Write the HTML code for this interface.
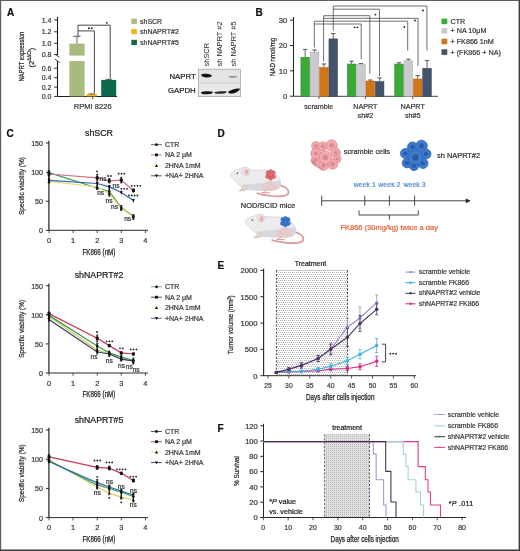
<!DOCTYPE html>
<html><head><meta charset="utf-8"><style>
html,body{margin:0;padding:0;background:#fff;}
svg{display:block;will-change:transform;}
text{font-family:"Liberation Sans", sans-serif;}
</style></head><body>
<svg width="520" height="551" viewBox="0 0 520 551">
<rect width="520" height="551" fill="#fff"/>
<line x1="0" y1="0.5" x2="520" y2="0.5" stroke="#5c5c5c" stroke-width="1.0" />
<line x1="0.6" y1="0" x2="0.6" y2="551" stroke="#606060" stroke-width="1.2" />
<line x1="519.3" y1="0" x2="519.3" y2="551" stroke="#3c3c3c" stroke-width="1.4" />
<line x1="0" y1="550.3" x2="520" y2="550.3" stroke="#3c3c3c" stroke-width="1.4" />
<text x="7.0" y="15.8" font-size="10" text-anchor="start" fill="#111" stroke="#111" stroke-width="0.22" font-weight="bold" >A</text>
<line x1="57.5" y1="17" x2="57.5" y2="55.0" stroke="#1a1a1a" stroke-width="1.1" />
<line x1="57.5" y1="61.2" x2="57.5" y2="96.4" stroke="#1a1a1a" stroke-width="1.1" />
<path d="M55.3,54.2 L59.3,57.4 M55.1,59.2 L59.5,62.6" stroke="#1a1a1a" stroke-width="0.9" fill="none" />
<line x1="54.2" y1="20" x2="57.5" y2="20" stroke="#2a2a2a" stroke-width="1.0" />
<text x="51.4" y="22.5" font-size="7" text-anchor="end" fill="#3a3a3a" stroke="#3a3a3a" stroke-width="0.22" font-weight="normal" >1.4</text>
<line x1="54.2" y1="31.8" x2="57.5" y2="31.8" stroke="#2a2a2a" stroke-width="1.0" />
<text x="51.4" y="34.3" font-size="7" text-anchor="end" fill="#3a3a3a" stroke="#3a3a3a" stroke-width="0.22" font-weight="normal" >1.2</text>
<line x1="54.2" y1="43.3" x2="57.5" y2="43.3" stroke="#2a2a2a" stroke-width="1.0" />
<text x="51.4" y="45.8" font-size="7" text-anchor="end" fill="#3a3a3a" stroke="#3a3a3a" stroke-width="0.22" font-weight="normal" >1.0</text>
<line x1="54.2" y1="54.6" x2="57.5" y2="54.6" stroke="#2a2a2a" stroke-width="1.0" />
<text x="51.4" y="57.1" font-size="7" text-anchor="end" fill="#3a3a3a" stroke="#3a3a3a" stroke-width="0.22" font-weight="normal" >0.8</text>
<line x1="54.2" y1="68.2" x2="57.5" y2="68.2" stroke="#2a2a2a" stroke-width="1.0" />
<text x="51.4" y="70.7" font-size="7" text-anchor="end" fill="#3a3a3a" stroke="#3a3a3a" stroke-width="0.22" font-weight="normal" >0.6</text>
<line x1="54.2" y1="77.7" x2="57.5" y2="77.7" stroke="#2a2a2a" stroke-width="1.0" />
<text x="51.4" y="80.2" font-size="7" text-anchor="end" fill="#3a3a3a" stroke="#3a3a3a" stroke-width="0.22" font-weight="normal" >0.4</text>
<line x1="54.2" y1="87.1" x2="57.5" y2="87.1" stroke="#2a2a2a" stroke-width="1.0" />
<text x="51.4" y="89.6" font-size="7" text-anchor="end" fill="#3a3a3a" stroke="#3a3a3a" stroke-width="0.22" font-weight="normal" >0.2</text>
<line x1="54.2" y1="96.4" x2="57.5" y2="96.4" stroke="#2a2a2a" stroke-width="1.0" />
<text x="51.4" y="98.9" font-size="7" text-anchor="end" fill="#3a3a3a" stroke="#3a3a3a" stroke-width="0.22" font-weight="normal" >0.0</text>
<line x1="57.5" y1="96.5" x2="117" y2="96.5" stroke="#1a1a1a" stroke-width="1.1" />
<line x1="92.7" y1="96.4" x2="92.7" y2="99.2" stroke="#2a2a2a" stroke-width="0.8" />
<rect x="69.4" y="43.6" width="15.2" height="12.0" fill="#a8ba7e" stroke="none" stroke-width="0" />
<rect x="69.4" y="61.1" width="15.2" height="35.3" fill="#a8ba7e" stroke="none" stroke-width="0" />
<rect x="86.2" y="94.2" width="10.8" height="2.2" fill="#f0b41e" stroke="none" stroke-width="0" />
<rect x="101.2" y="79.9" width="15.0" height="16.5" fill="#10694d" stroke="none" stroke-width="0" />
<line x1="77" y1="43.6" x2="77" y2="36.3" stroke="#555" stroke-width="0.9" />
<line x1="73.4" y1="36.3" x2="80.6" y2="36.3" stroke="#444" stroke-width="0.9" />
<line x1="108.7" y1="79.9" x2="108.7" y2="79.0" stroke="#333" stroke-width="0.8" />
<line x1="105.5" y1="79.3" x2="112" y2="79.3" stroke="#333" stroke-width="0.8" />
<line x1="91.6" y1="93.8" x2="91.6" y2="94.2" stroke="#333" stroke-width="0.8" />
<line x1="88.5" y1="93.9" x2="95" y2="93.9" stroke="#333" stroke-width="0.8" />
<path d="M78,36 V25.2 H110.2 V78.6" stroke="#333" stroke-width="0.9" fill="none" />
<path d="M78,30.9 H94.4 V93.4" stroke="#333" stroke-width="0.9" fill="none" />
<circle cx="106.80" cy="22.80" r="0.9" fill="#1a1a1a"/>
<circle cx="88.88" cy="28.20" r="0.9" fill="#1a1a1a"/>
<circle cx="91.72" cy="28.20" r="0.9" fill="#1a1a1a"/>
<text transform="translate(24.28,56.60) rotate(-90)" x="0" y="0" font-size="8" text-anchor="middle" fill="#2a2a2a" stroke="#2a2a2a" stroke-width="0.25" textLength="50" lengthAdjust="spacingAndGlyphs" >NAPRT expression</text>
<text transform="translate(33.6,57.6) rotate(-90)" font-size="7.5" text-anchor="middle" fill="#2a2a2a" stroke="#2a2a2a" stroke-width="0.2" textLength="20" lengthAdjust="spacingAndGlyphs">(2<tspan font-size="4.5" dy="-2.5">ΔΔCt</tspan><tspan dy="2.5">)</tspan></text>
<text x="92.7" y="109.1" font-size="7.6" text-anchor="middle" fill="#3a3a3a" stroke="#3a3a3a" stroke-width="0.22" font-weight="normal" >RPMI 8226</text>
<rect x="131.3" y="18.7" width="5.6" height="5.2" fill="#a8ba7e" stroke="none" stroke-width="0" />
<text x="140" y="23.799999999999997" font-size="7" text-anchor="start" fill="#3a3a3a" stroke="#3a3a3a" stroke-width="0.22" font-weight="normal" >shSCR</text>
<rect x="131.3" y="29.0" width="5.6" height="5.2" fill="#f0b41e" stroke="none" stroke-width="0" />
<text x="140" y="34.1" font-size="7" text-anchor="start" fill="#3a3a3a" stroke="#3a3a3a" stroke-width="0.22" font-weight="normal" >shNAPRT#2</text>
<rect x="131.3" y="39.8" width="5.6" height="5.2" fill="#10694d" stroke="none" stroke-width="0" />
<text x="140" y="44.9" font-size="7" text-anchor="start" fill="#3a3a3a" stroke="#3a3a3a" stroke-width="0.22" font-weight="normal" >shNAPRT#5</text>
<rect x="198.5" y="69.2" width="42" height="27.4" fill="#e4e4e4" stroke="#a8a8a8" stroke-width="0.8" />
<rect x="199.5" y="83.2" width="40" height="12.6" fill="#e9e9e9" stroke="none" stroke-width="0" />
<line x1="198.5" y1="82.9" x2="240.5" y2="82.9" stroke="#c4c4c4" stroke-width="0.8" />
<path d="M201.2,74.6 C203,73.4 208,73.6 211.8,75.2 C212.2,76.6 210,77.6 206,77.4 C203,77.2 201,76.4 201.2,74.6Z" fill="#111"/>
<ellipse cx="233" cy="76.8" rx="4.3" ry="1.1" fill="#9a9a9a"/>
<path d="M201,92.2 C204,90.8 210,91 212.8,91.8 C213,93.6 210,94.4 206,94.3 C202.5,94.2 200.8,93.6 201,92.2Z" fill="#151515"/>
<path d="M214.3,92.2 C218,91.2 223,91 226.7,91.4 C227,93 223,93.8 219.5,93.8 C216,93.8 214.2,93.4 214.3,92.2Z" fill="#2a2a2a"/>
<path d="M228.2,91.8 C231,89.8 236,88.2 239.7,88.6 C240,90.6 237,92.6 233,93.4 C230,93.8 228,93.4 228.2,91.8Z" fill="#111"/>
<text x="195.7" y="79" font-size="7.8" text-anchor="end" fill="#222" stroke="#222" stroke-width="0.22" font-weight="normal" >NAPRT</text>
<text x="195.7" y="93.2" font-size="7.8" text-anchor="end" fill="#222" stroke="#222" stroke-width="0.22" font-weight="normal" >GAPDH</text>
<text transform="translate(209.39999999999998,66.4) rotate(-90)" font-size="7.4" fill="#222">shSCR</text>
<text transform="translate(222.39999999999998,66.4) rotate(-90)" font-size="7.4" fill="#222">sh NAPRT #2</text>
<text transform="translate(235.5,66.4) rotate(-90)" font-size="7.4" fill="#222">sh NAPRT #5</text>
<text x="255.6" y="15.6" font-size="10" text-anchor="start" fill="#111" stroke="#111" stroke-width="0.22" font-weight="bold" >B</text>
<line x1="293.5" y1="17" x2="293.5" y2="96.3" stroke="#2a2a2a" stroke-width="1.1" />
<line x1="290.0" y1="96.2" x2="293.5" y2="96.2" stroke="#2a2a2a" stroke-width="1.0" />
<text x="287.4" y="98.9" font-size="7.7" text-anchor="end" fill="#3a3a3a" stroke="#3a3a3a" stroke-width="0.22" font-weight="normal" >0</text>
<line x1="290.0" y1="70.85" x2="293.5" y2="70.85" stroke="#2a2a2a" stroke-width="1.0" />
<text x="287.4" y="73.55" font-size="7.7" text-anchor="end" fill="#3a3a3a" stroke="#3a3a3a" stroke-width="0.22" font-weight="normal" >10</text>
<line x1="290.0" y1="45.5" x2="293.5" y2="45.5" stroke="#2a2a2a" stroke-width="1.0" />
<text x="287.4" y="48.2" font-size="7.7" text-anchor="end" fill="#3a3a3a" stroke="#3a3a3a" stroke-width="0.22" font-weight="normal" >20</text>
<line x1="290.0" y1="20.14999999999999" x2="293.5" y2="20.14999999999999" stroke="#2a2a2a" stroke-width="1.0" />
<text x="287.4" y="22.84999999999999" font-size="7.7" text-anchor="end" fill="#3a3a3a" stroke="#3a3a3a" stroke-width="0.22" font-weight="normal" >30</text>
<line x1="293.5" y1="96.3" x2="438" y2="96.3" stroke="#2a2a2a" stroke-width="0.9" />
<line x1="318.8" y1="96.3" x2="318.8" y2="99" stroke="#2a2a2a" stroke-width="0.8" />
<line x1="365.4" y1="96.3" x2="365.4" y2="99" stroke="#2a2a2a" stroke-width="0.8" />
<line x1="412.7" y1="96.3" x2="412.7" y2="99" stroke="#2a2a2a" stroke-width="0.8" />
<line x1="305.2" y1="57.3" x2="305.2" y2="49.4" stroke="#555" stroke-width="0.9" />
<line x1="303.0" y1="49.4" x2="307.4" y2="49.4" stroke="#444" stroke-width="0.9" />
<rect x="300.9" y="57.3" width="8.6" height="39.0" fill="#3aaa36" stroke="#2a8a2a" stroke-width="0.5" />
<line x1="314.55" y1="52.2" x2="314.55" y2="50" stroke="#555" stroke-width="0.9" />
<line x1="312.35" y1="50" x2="316.75" y2="50" stroke="#444" stroke-width="0.9" />
<rect x="310.25" y="52.2" width="8.6" height="44.099999999999994" fill="#c9c9ce" stroke="#aaaab2" stroke-width="0.5" />
<line x1="323.9" y1="67.5" x2="323.9" y2="64" stroke="#555" stroke-width="0.9" />
<line x1="321.7" y1="64" x2="326.09999999999997" y2="64" stroke="#444" stroke-width="0.9" />
<rect x="319.59999999999997" y="67.5" width="8.6" height="28.799999999999997" fill="#d07518" stroke="#b06010" stroke-width="0.5" />
<line x1="333.25" y1="38.9" x2="333.25" y2="33.6" stroke="#555" stroke-width="0.9" />
<line x1="331.05" y1="33.6" x2="335.45" y2="33.6" stroke="#444" stroke-width="0.9" />
<rect x="328.95" y="38.9" width="8.6" height="57.4" fill="#44536a" stroke="#303c50" stroke-width="0.5" />
<line x1="351.6" y1="64" x2="351.6" y2="61.2" stroke="#555" stroke-width="0.9" />
<line x1="349.40000000000003" y1="61.2" x2="353.8" y2="61.2" stroke="#444" stroke-width="0.9" />
<rect x="347.3" y="64" width="8.6" height="32.3" fill="#3aaa36" stroke="#2a8a2a" stroke-width="0.5" />
<line x1="360.95000000000005" y1="64.4" x2="360.95000000000005" y2="63.6" stroke="#555" stroke-width="0.9" />
<line x1="358.75000000000006" y1="63.6" x2="363.15000000000003" y2="63.6" stroke="#444" stroke-width="0.9" />
<rect x="356.65000000000003" y="64.4" width="8.6" height="31.89999999999999" fill="#c9c9ce" stroke="#aaaab2" stroke-width="0.5" />
<line x1="370.3" y1="81" x2="370.3" y2="80" stroke="#555" stroke-width="0.9" />
<line x1="368.1" y1="80" x2="372.5" y2="80" stroke="#444" stroke-width="0.9" />
<rect x="366.0" y="81" width="8.6" height="15.299999999999997" fill="#d07518" stroke="#b06010" stroke-width="0.5" />
<line x1="379.65000000000003" y1="81.7" x2="379.65000000000003" y2="77.9" stroke="#555" stroke-width="0.9" />
<line x1="377.45000000000005" y1="77.9" x2="381.85" y2="77.9" stroke="#444" stroke-width="0.9" />
<rect x="375.35" y="81.7" width="8.6" height="14.599999999999994" fill="#44536a" stroke="#303c50" stroke-width="0.5" />
<line x1="399.0" y1="64" x2="399.0" y2="62.7" stroke="#555" stroke-width="0.9" />
<line x1="396.8" y1="62.7" x2="401.2" y2="62.7" stroke="#444" stroke-width="0.9" />
<rect x="394.7" y="64" width="8.6" height="32.3" fill="#3aaa36" stroke="#2a8a2a" stroke-width="0.5" />
<line x1="408.35" y1="60.8" x2="408.35" y2="59.2" stroke="#555" stroke-width="0.9" />
<line x1="406.15000000000003" y1="59.2" x2="410.55" y2="59.2" stroke="#444" stroke-width="0.9" />
<rect x="404.05" y="60.8" width="8.6" height="35.5" fill="#c9c9ce" stroke="#aaaab2" stroke-width="0.5" />
<line x1="417.7" y1="79" x2="417.7" y2="75.6" stroke="#555" stroke-width="0.9" />
<line x1="415.5" y1="75.6" x2="419.9" y2="75.6" stroke="#444" stroke-width="0.9" />
<rect x="413.4" y="79" width="8.6" height="17.299999999999997" fill="#d07518" stroke="#b06010" stroke-width="0.5" />
<line x1="427.05" y1="68.3" x2="427.05" y2="60.6" stroke="#555" stroke-width="0.9" />
<line x1="424.85" y1="60.6" x2="429.25" y2="60.6" stroke="#444" stroke-width="0.9" />
<rect x="422.75" y="68.3" width="8.6" height="28.0" fill="#44536a" stroke="#303c50" stroke-width="0.5" />
<path d="M333.3,30.6 V6.0 H426.9 V50.4" stroke="#4a4a4a" stroke-width="0.8" fill="none" />
<path d="M333.3,9.2 H379.5 V76.2" stroke="#4a4a4a" stroke-width="0.8" fill="none" />
<path d="M323.6,61.5 V15.7 H369.8 V73.6" stroke="#4a4a4a" stroke-width="0.8" fill="none" />
<path d="M323.6,18.3 H418 V66" stroke="#4a4a4a" stroke-width="0.8" fill="none" />
<path d="M314.3,47.5 V21.2 H407.7 V50.6" stroke="#4a4a4a" stroke-width="0.8" fill="none" />
<path d="M314.3,24 H361.2 V59.2" stroke="#4a4a4a" stroke-width="0.8" fill="none" />
<circle cx="423.00" cy="10.50" r="0.9" fill="#1a1a1a"/>
<circle cx="375.40" cy="14.60" r="0.9" fill="#1a1a1a"/>
<circle cx="415.00" cy="20.50" r="0.9" fill="#1a1a1a"/>
<circle cx="404.30" cy="27.00" r="0.9" fill="#1a1a1a"/>
<circle cx="354.57" cy="27.30" r="0.9" fill="#1a1a1a"/>
<circle cx="357.43" cy="27.30" r="0.9" fill="#1a1a1a"/>
<rect x="441.5" y="18.6" width="5.8" height="5.6" fill="#3aaa36" stroke="none" stroke-width="0" />
<text x="450.5" y="23.900000000000002" font-size="7.2" text-anchor="start" fill="#3a3a3a" stroke="#3a3a3a" stroke-width="0.22" font-weight="normal" >CTR</text>
<rect x="441.5" y="28.1" width="5.8" height="5.6" fill="#c9c9ce" stroke="none" stroke-width="0" />
<text x="450.5" y="33.4" font-size="7.2" text-anchor="start" fill="#3a3a3a" stroke="#3a3a3a" stroke-width="0.22" font-weight="normal" >+ NA 10μM</text>
<rect x="441.5" y="38.7" width="5.8" height="5.6" fill="#d07518" stroke="none" stroke-width="0" />
<text x="450.5" y="44.0" font-size="7.2" text-anchor="start" fill="#3a3a3a" stroke="#3a3a3a" stroke-width="0.22" font-weight="normal" >+ FK866 1nM</text>
<rect x="441.5" y="49.3" width="5.8" height="5.6" fill="#44536a" stroke="none" stroke-width="0" />
<text x="450.5" y="54.599999999999994" font-size="7.2" text-anchor="start" fill="#3a3a3a" stroke="#3a3a3a" stroke-width="0.22" font-weight="normal" >+ (FK866 + NA)</text>
<text x="318.8" y="109.2" font-size="7.2" text-anchor="middle" fill="#3a3a3a" stroke="#3a3a3a" stroke-width="0.22" font-weight="normal" >scramble</text>
<text x="365.4" y="109.2" font-size="7.2" text-anchor="middle" fill="#3a3a3a" stroke="#3a3a3a" stroke-width="0.22" font-weight="normal" >NAPRT</text>
<text x="365.4" y="117.8" font-size="7.2" text-anchor="middle" fill="#3a3a3a" stroke="#3a3a3a" stroke-width="0.22" font-weight="normal" >sh#2</text>
<text x="412.7" y="109.2" font-size="7.2" text-anchor="middle" fill="#3a3a3a" stroke="#3a3a3a" stroke-width="0.22" font-weight="normal" >NAPRT</text>
<text x="412.7" y="117.8" font-size="7.2" text-anchor="middle" fill="#3a3a3a" stroke="#3a3a3a" stroke-width="0.22" font-weight="normal" >sh#5</text>
<text transform="translate(274.88,57.00) rotate(-90)" x="0" y="0" font-size="8" text-anchor="middle" fill="#2a2a2a" stroke="#2a2a2a" stroke-width="0.25" textLength="38.4" lengthAdjust="spacingAndGlyphs" >NAD nmol/mg</text>
<text x="6.6" y="137" font-size="10" text-anchor="start" fill="#111" stroke="#111" stroke-width="0.22" font-weight="bold" >C</text>
<line x1="48.9" y1="140.8" x2="48.9" y2="230.3" stroke="#2a2a2a" stroke-width="1.25" />
<line x1="45.8" y1="230.3" x2="49" y2="230.3" stroke="#2a2a2a" stroke-width="1.0" />
<text x="43.0" y="233.20000000000002" font-size="7.1" text-anchor="end" fill="#3a3a3a" stroke="#3a3a3a" stroke-width="0.22" font-weight="normal" >0</text>
<line x1="45.8" y1="201.20000000000002" x2="49" y2="201.20000000000002" stroke="#2a2a2a" stroke-width="1.0" />
<text x="43.0" y="204.10000000000002" font-size="7.1" text-anchor="end" fill="#3a3a3a" stroke="#3a3a3a" stroke-width="0.22" font-weight="normal" >50</text>
<line x1="45.8" y1="172.1" x2="49" y2="172.1" stroke="#2a2a2a" stroke-width="1.0" />
<text x="43.0" y="175.0" font-size="7.1" text-anchor="end" fill="#3a3a3a" stroke="#3a3a3a" stroke-width="0.22" font-weight="normal" >100</text>
<line x1="45.8" y1="143.0" x2="49" y2="143.0" stroke="#2a2a2a" stroke-width="1.0" />
<text x="43.0" y="145.9" font-size="7.1" text-anchor="end" fill="#3a3a3a" stroke="#3a3a3a" stroke-width="0.22" font-weight="normal" >150</text>
<line x1="49" y1="230.3" x2="148" y2="230.3" stroke="#2a2a2a" stroke-width="1.0" />
<line x1="49.0" y1="230.3" x2="49.0" y2="233.10000000000002" stroke="#2a2a2a" stroke-width="0.8" />
<text x="49.0" y="243.0" font-size="7.4" text-anchor="middle" fill="#3a3a3a" stroke="#3a3a3a" stroke-width="0.22" font-weight="normal" >0</text>
<line x1="73.1" y1="230.3" x2="73.1" y2="233.10000000000002" stroke="#2a2a2a" stroke-width="0.8" />
<text x="73.1" y="243.0" font-size="7.4" text-anchor="middle" fill="#3a3a3a" stroke="#3a3a3a" stroke-width="0.22" font-weight="normal" >1</text>
<line x1="97.2" y1="230.3" x2="97.2" y2="233.10000000000002" stroke="#2a2a2a" stroke-width="0.8" />
<text x="97.2" y="243.0" font-size="7.4" text-anchor="middle" fill="#3a3a3a" stroke="#3a3a3a" stroke-width="0.22" font-weight="normal" >2</text>
<line x1="121.30000000000001" y1="230.3" x2="121.30000000000001" y2="233.10000000000002" stroke="#2a2a2a" stroke-width="0.8" />
<text x="121.30000000000001" y="243.0" font-size="7.4" text-anchor="middle" fill="#3a3a3a" stroke="#3a3a3a" stroke-width="0.22" font-weight="normal" >3</text>
<line x1="145.4" y1="230.3" x2="145.4" y2="233.10000000000002" stroke="#2a2a2a" stroke-width="0.8" />
<text x="145.4" y="243.0" font-size="7.4" text-anchor="middle" fill="#3a3a3a" stroke="#3a3a3a" stroke-width="0.22" font-weight="normal" >4</text>
<text x="98.9" y="254.6" font-size="9" text-anchor="middle" fill="#222" stroke="#222" stroke-width="0.25" textLength="33" lengthAdjust="spacingAndGlyphs">FK866 (nM)</text>
<text x="99" y="135.6" font-size="8.8" text-anchor="middle" fill="#222" stroke="#222" stroke-width="0.22" font-weight="normal" >shSCR</text>
<text transform="translate(23.78,186.05) rotate(-90)" x="0" y="0" font-size="8" text-anchor="middle" fill="#2a2a2a" stroke="#2a2a2a" stroke-width="0.25" textLength="58" lengthAdjust="spacingAndGlyphs" >Specific viability (%)</text>
<polyline points="49,172.7 97.2,188 109.3,191.5 121.3,207.7 133.4,216.3" fill="none" stroke="#3a9a60" stroke-width="1.25"/>
<polyline points="49,181.3 97.2,187 109.3,193.8 121.3,208.3 133.4,217" fill="none" stroke="#e8dc70" stroke-width="1.25"/>
<polyline points="49,180.4 97.2,183.5 109.3,186.9 121.3,192.5 133.4,200.5" fill="none" stroke="#3a62b0" stroke-width="1.25"/>
<polyline points="49,174 97.2,177.9 109.3,180.9 121.3,180.2 133.4,190.4" fill="none" stroke="#d0708a" stroke-width="1.25"/>
<line x1="49" y1="170.5" x2="49" y2="183" stroke="#111" stroke-width="1.3" />
<line x1="47.9" y1="170.5" x2="50.1" y2="170.5" stroke="#111" stroke-width="0.7" />
<line x1="47.9" y1="183" x2="50.1" y2="183" stroke="#111" stroke-width="0.7" />
<line x1="97.2" y1="174.2" x2="97.2" y2="181" stroke="#111" stroke-width="1.3" />
<line x1="96.10000000000001" y1="174.2" x2="98.3" y2="174.2" stroke="#111" stroke-width="0.7" />
<line x1="96.10000000000001" y1="181" x2="98.3" y2="181" stroke="#111" stroke-width="0.7" />
<line x1="97.2" y1="182.3" x2="97.2" y2="189.6" stroke="#111" stroke-width="1.3" />
<line x1="96.10000000000001" y1="182.3" x2="98.3" y2="182.3" stroke="#111" stroke-width="0.7" />
<line x1="96.10000000000001" y1="189.6" x2="98.3" y2="189.6" stroke="#111" stroke-width="0.7" />
<line x1="109.3" y1="178.5" x2="109.3" y2="183" stroke="#111" stroke-width="1.3" />
<line x1="108.2" y1="178.5" x2="110.39999999999999" y2="178.5" stroke="#111" stroke-width="0.7" />
<line x1="108.2" y1="183" x2="110.39999999999999" y2="183" stroke="#111" stroke-width="0.7" />
<line x1="109.3" y1="185.5" x2="109.3" y2="196.2" stroke="#111" stroke-width="1.3" />
<line x1="108.2" y1="185.5" x2="110.39999999999999" y2="185.5" stroke="#111" stroke-width="0.7" />
<line x1="108.2" y1="196.2" x2="110.39999999999999" y2="196.2" stroke="#111" stroke-width="0.7" />
<line x1="121.3" y1="177.3" x2="121.3" y2="183" stroke="#111" stroke-width="1.3" />
<line x1="120.2" y1="177.3" x2="122.39999999999999" y2="177.3" stroke="#111" stroke-width="0.7" />
<line x1="120.2" y1="183" x2="122.39999999999999" y2="183" stroke="#111" stroke-width="0.7" />
<line x1="121.3" y1="205.5" x2="121.3" y2="210.5" stroke="#111" stroke-width="1.3" />
<line x1="120.2" y1="205.5" x2="122.39999999999999" y2="205.5" stroke="#111" stroke-width="0.7" />
<line x1="120.2" y1="210.5" x2="122.39999999999999" y2="210.5" stroke="#111" stroke-width="0.7" />
<line x1="133.4" y1="189" x2="133.4" y2="192" stroke="#111" stroke-width="1.3" />
<line x1="132.3" y1="189" x2="134.5" y2="189" stroke="#111" stroke-width="0.7" />
<line x1="132.3" y1="192" x2="134.5" y2="192" stroke="#111" stroke-width="0.7" />
<line x1="133.4" y1="214.5" x2="133.4" y2="219.5" stroke="#111" stroke-width="1.3" />
<line x1="132.3" y1="214.5" x2="134.5" y2="214.5" stroke="#111" stroke-width="0.7" />
<line x1="132.3" y1="219.5" x2="134.5" y2="219.5" stroke="#111" stroke-width="0.7" />
<line x1="49" y1="170.7" x2="49" y2="174.7" stroke="#111" stroke-width="0.7" />
<circle cx="49" cy="172.7" r="1.3" fill="#111"/>
<line x1="97.2" y1="186.0" x2="97.2" y2="190.0" stroke="#111" stroke-width="0.7" />
<circle cx="97.2" cy="188" r="1.3" fill="#111"/>
<line x1="109.3" y1="189.5" x2="109.3" y2="193.5" stroke="#111" stroke-width="0.7" />
<circle cx="109.3" cy="191.5" r="1.3" fill="#111"/>
<line x1="121.3" y1="205.7" x2="121.3" y2="209.7" stroke="#111" stroke-width="0.7" />
<circle cx="121.3" cy="207.7" r="1.3" fill="#111"/>
<line x1="133.4" y1="214.3" x2="133.4" y2="218.3" stroke="#111" stroke-width="0.7" />
<circle cx="133.4" cy="216.3" r="1.3" fill="#111"/>
<line x1="49" y1="179.3" x2="49" y2="183.3" stroke="#111" stroke-width="0.7" />
<path d="M47.5,182.5 L50.5,182.5 L49,179.8Z" fill="#111"/>
<line x1="97.2" y1="185.0" x2="97.2" y2="189.0" stroke="#111" stroke-width="0.7" />
<path d="M95.7,188.2 L98.7,188.2 L97.2,185.5Z" fill="#111"/>
<line x1="109.3" y1="191.8" x2="109.3" y2="195.8" stroke="#111" stroke-width="0.7" />
<path d="M107.8,195.0 L110.8,195.0 L109.3,192.3Z" fill="#111"/>
<line x1="121.3" y1="206.3" x2="121.3" y2="210.3" stroke="#111" stroke-width="0.7" />
<path d="M119.8,209.5 L122.8,209.5 L121.3,206.8Z" fill="#111"/>
<line x1="133.4" y1="215.0" x2="133.4" y2="219.0" stroke="#111" stroke-width="0.7" />
<path d="M131.9,218.2 L134.9,218.2 L133.4,215.5Z" fill="#111"/>
<line x1="49" y1="178.4" x2="49" y2="182.4" stroke="#111" stroke-width="0.7" />
<path d="M47.5,179.20000000000002 L50.5,179.20000000000002 L49,181.9Z" fill="#111"/>
<line x1="97.2" y1="181.5" x2="97.2" y2="185.5" stroke="#111" stroke-width="0.7" />
<path d="M95.7,182.3 L98.7,182.3 L97.2,185.0Z" fill="#111"/>
<line x1="109.3" y1="184.9" x2="109.3" y2="188.9" stroke="#111" stroke-width="0.7" />
<path d="M107.8,185.70000000000002 L110.8,185.70000000000002 L109.3,188.4Z" fill="#111"/>
<line x1="121.3" y1="190.5" x2="121.3" y2="194.5" stroke="#111" stroke-width="0.7" />
<path d="M119.8,191.3 L122.8,191.3 L121.3,194.0Z" fill="#111"/>
<line x1="133.4" y1="198.5" x2="133.4" y2="202.5" stroke="#111" stroke-width="0.7" />
<path d="M131.9,199.3 L134.9,199.3 L133.4,202.0Z" fill="#111"/>
<line x1="49" y1="172.0" x2="49" y2="176.0" stroke="#111" stroke-width="0.7" />
<rect x="47.5" y="172.5" width="3.0" height="3.0" fill="#111" stroke="none" stroke-width="0" />
<line x1="97.2" y1="175.9" x2="97.2" y2="179.9" stroke="#111" stroke-width="0.7" />
<rect x="95.7" y="176.4" width="3.0" height="3.0" fill="#111" stroke="none" stroke-width="0" />
<line x1="109.3" y1="178.9" x2="109.3" y2="182.9" stroke="#111" stroke-width="0.7" />
<rect x="107.8" y="179.4" width="3.0" height="3.0" fill="#111" stroke="none" stroke-width="0" />
<line x1="121.3" y1="178.2" x2="121.3" y2="182.2" stroke="#111" stroke-width="0.7" />
<rect x="119.8" y="178.7" width="3.0" height="3.0" fill="#111" stroke="none" stroke-width="0" />
<line x1="133.4" y1="188.4" x2="133.4" y2="192.4" stroke="#111" stroke-width="0.7" />
<rect x="131.9" y="188.9" width="3.0" height="3.0" fill="#111" stroke="none" stroke-width="0" />
<circle cx="97.00" cy="171.40" r="0.9" fill="#1a1a1a"/>
<text x="103" y="180.8" font-size="6.6" text-anchor="middle" fill="#333" stroke="#333" stroke-width="0.22" font-weight="normal" >ns</text>
<text x="100.7" y="195.0" font-size="6.6" text-anchor="middle" fill="#333" stroke="#333" stroke-width="0.22" font-weight="normal" >ns</text>
<circle cx="108.08" cy="176.00" r="0.9" fill="#1a1a1a"/>
<circle cx="110.92" cy="176.00" r="0.9" fill="#1a1a1a"/>
<text x="116" y="188.2" font-size="6.6" text-anchor="middle" fill="#333" stroke="#333" stroke-width="0.22" font-weight="normal" >ns</text>
<text x="109" y="202.9" font-size="6.6" text-anchor="middle" fill="#333" stroke="#333" stroke-width="0.22" font-weight="normal" >ns</text>
<circle cx="118.65" cy="173.70" r="0.9" fill="#1a1a1a"/>
<circle cx="121.50" cy="173.70" r="0.9" fill="#1a1a1a"/>
<circle cx="124.35" cy="173.70" r="0.9" fill="#1a1a1a"/>
<circle cx="121.35" cy="188.80" r="0.9" fill="#1a1a1a"/>
<circle cx="124.20" cy="188.80" r="0.9" fill="#1a1a1a"/>
<circle cx="127.05" cy="188.80" r="0.9" fill="#1a1a1a"/>
<text x="114.6" y="208.6" font-size="6.6" text-anchor="middle" fill="#333" stroke="#333" stroke-width="0.22" font-weight="normal" >ns</text>
<circle cx="131.72" cy="185.80" r="0.9" fill="#1a1a1a"/>
<circle cx="134.57" cy="185.80" r="0.9" fill="#1a1a1a"/>
<circle cx="137.42" cy="185.80" r="0.9" fill="#1a1a1a"/>
<circle cx="140.28" cy="185.80" r="0.9" fill="#1a1a1a"/>
<circle cx="128.92" cy="195.50" r="0.9" fill="#1a1a1a"/>
<circle cx="131.77" cy="195.50" r="0.9" fill="#1a1a1a"/>
<circle cx="134.62" cy="195.50" r="0.9" fill="#1a1a1a"/>
<circle cx="137.47" cy="195.50" r="0.9" fill="#1a1a1a"/>
<text x="127.7" y="220.7" font-size="6.6" text-anchor="middle" fill="#333" stroke="#333" stroke-width="0.22" font-weight="normal" >ns</text>
<line x1="151.0" y1="144.7" x2="161.8" y2="144.7" stroke="#4a5e50" stroke-width="0.9" />
<circle cx="156.5" cy="144.7" r="1.4" fill="#111"/>
<text x="164.9" y="147.2" font-size="7" text-anchor="start" fill="#3a3a3a" stroke="#3a3a3a" stroke-width="0.22" font-weight="normal" >CTR</text>
<line x1="151.0" y1="154.9" x2="161.8" y2="154.9" stroke="#b0687a" stroke-width="0.9" />
<rect x="155.1" y="153.5" width="2.8" height="2.8" fill="#111" stroke="none" stroke-width="0" />
<text x="164.9" y="157.4" font-size="7" text-anchor="start" fill="#3a3a3a" stroke="#3a3a3a" stroke-width="0.22" font-weight="normal" >NA 2 μM</text>
<line x1="151.0" y1="165.7" x2="161.8" y2="165.7" stroke="#ece6a8" stroke-width="0.9" />
<path d="M155.0,166.89999999999998 L158.0,166.89999999999998 L156.5,164.1Z" fill="#111"/>
<text x="164.9" y="168.2" font-size="7" text-anchor="start" fill="#3a3a3a" stroke="#3a3a3a" stroke-width="0.22" font-weight="normal" >2HNA 1mM</text>
<line x1="151.0" y1="175.8" x2="161.8" y2="175.8" stroke="#2a3e5e" stroke-width="0.9" />
<path d="M155.0,174.60000000000002 L158.0,174.60000000000002 L156.5,177.4Z" fill="#111"/>
<text x="164.9" y="178.3" font-size="7" text-anchor="start" fill="#3a3a3a" stroke="#3a3a3a" stroke-width="0.22" font-weight="normal" >+NA+ 2HNA</text>
<line x1="48.9" y1="283.5" x2="48.9" y2="373" stroke="#2a2a2a" stroke-width="1.25" />
<line x1="45.8" y1="373.0" x2="49" y2="373.0" stroke="#2a2a2a" stroke-width="1.0" />
<text x="43.0" y="375.9" font-size="7.1" text-anchor="end" fill="#3a3a3a" stroke="#3a3a3a" stroke-width="0.22" font-weight="normal" >0</text>
<line x1="45.8" y1="343.9" x2="49" y2="343.9" stroke="#2a2a2a" stroke-width="1.0" />
<text x="43.0" y="346.79999999999995" font-size="7.1" text-anchor="end" fill="#3a3a3a" stroke="#3a3a3a" stroke-width="0.22" font-weight="normal" >50</text>
<line x1="45.8" y1="314.8" x2="49" y2="314.8" stroke="#2a2a2a" stroke-width="1.0" />
<text x="43.0" y="317.7" font-size="7.1" text-anchor="end" fill="#3a3a3a" stroke="#3a3a3a" stroke-width="0.22" font-weight="normal" >100</text>
<line x1="45.8" y1="285.7" x2="49" y2="285.7" stroke="#2a2a2a" stroke-width="1.0" />
<text x="43.0" y="288.59999999999997" font-size="7.1" text-anchor="end" fill="#3a3a3a" stroke="#3a3a3a" stroke-width="0.22" font-weight="normal" >150</text>
<line x1="49" y1="373" x2="148" y2="373" stroke="#2a2a2a" stroke-width="1.0" />
<line x1="49.0" y1="373" x2="49.0" y2="375.8" stroke="#2a2a2a" stroke-width="0.8" />
<text x="49.0" y="385.7" font-size="7.4" text-anchor="middle" fill="#3a3a3a" stroke="#3a3a3a" stroke-width="0.22" font-weight="normal" >0</text>
<line x1="73.1" y1="373" x2="73.1" y2="375.8" stroke="#2a2a2a" stroke-width="0.8" />
<text x="73.1" y="385.7" font-size="7.4" text-anchor="middle" fill="#3a3a3a" stroke="#3a3a3a" stroke-width="0.22" font-weight="normal" >1</text>
<line x1="97.2" y1="373" x2="97.2" y2="375.8" stroke="#2a2a2a" stroke-width="0.8" />
<text x="97.2" y="385.7" font-size="7.4" text-anchor="middle" fill="#3a3a3a" stroke="#3a3a3a" stroke-width="0.22" font-weight="normal" >2</text>
<line x1="121.30000000000001" y1="373" x2="121.30000000000001" y2="375.8" stroke="#2a2a2a" stroke-width="0.8" />
<text x="121.30000000000001" y="385.7" font-size="7.4" text-anchor="middle" fill="#3a3a3a" stroke="#3a3a3a" stroke-width="0.22" font-weight="normal" >3</text>
<line x1="145.4" y1="373" x2="145.4" y2="375.8" stroke="#2a2a2a" stroke-width="0.8" />
<text x="145.4" y="385.7" font-size="7.4" text-anchor="middle" fill="#3a3a3a" stroke="#3a3a3a" stroke-width="0.22" font-weight="normal" >4</text>
<text x="98.9" y="397.3" font-size="9" text-anchor="middle" fill="#222" stroke="#222" stroke-width="0.25" textLength="33" lengthAdjust="spacingAndGlyphs">FK866 (nM)</text>
<text x="99" y="278.3" font-size="8.8" text-anchor="middle" fill="#222" stroke="#222" stroke-width="0.22" font-weight="normal" >shNAPRT#2</text>
<text transform="translate(23.78,328.75) rotate(-90)" x="0" y="0" font-size="8" text-anchor="middle" fill="#2a2a2a" stroke="#2a2a2a" stroke-width="0.25" textLength="58" lengthAdjust="spacingAndGlyphs" >Specific viability (%)</text>
<polyline points="49,316.5 97.2,350 109.3,354 121.3,359.2 133.4,361.5" fill="none" stroke="#d8c850" stroke-width="1.25"/>
<polyline points="49,315.4 97.2,346 109.3,352.9 121.3,357.1 133.4,360.4" fill="none" stroke="#3a9a55" stroke-width="1.25"/>
<polyline points="49,319.4 97.2,352 109.3,354 121.3,359.2 133.4,361" fill="none" stroke="#2e3e6a" stroke-width="1.25"/>
<polyline points="49,313.6 97.2,338.3 109.3,345.6 121.3,352.9 133.4,354" fill="none" stroke="#c8385a" stroke-width="1.25"/>
<line x1="49" y1="312" x2="49" y2="321" stroke="#111" stroke-width="1.3" />
<line x1="47.9" y1="312" x2="50.1" y2="312" stroke="#111" stroke-width="0.7" />
<line x1="47.9" y1="321" x2="50.1" y2="321" stroke="#111" stroke-width="0.7" />
<line x1="97.2" y1="335" x2="97.2" y2="342" stroke="#111" stroke-width="1.3" />
<line x1="96.10000000000001" y1="335" x2="98.3" y2="335" stroke="#111" stroke-width="0.7" />
<line x1="96.10000000000001" y1="342" x2="98.3" y2="342" stroke="#111" stroke-width="0.7" />
<line x1="97.2" y1="343.5" x2="97.2" y2="354" stroke="#111" stroke-width="1.3" />
<line x1="96.10000000000001" y1="343.5" x2="98.3" y2="343.5" stroke="#111" stroke-width="0.7" />
<line x1="96.10000000000001" y1="354" x2="98.3" y2="354" stroke="#111" stroke-width="0.7" />
<line x1="109.3" y1="351" x2="109.3" y2="356.5" stroke="#111" stroke-width="1.3" />
<line x1="108.2" y1="351" x2="110.39999999999999" y2="351" stroke="#111" stroke-width="0.7" />
<line x1="108.2" y1="356.5" x2="110.39999999999999" y2="356.5" stroke="#111" stroke-width="0.7" />
<line x1="121.3" y1="355" x2="121.3" y2="361" stroke="#111" stroke-width="1.3" />
<line x1="120.2" y1="355" x2="122.39999999999999" y2="355" stroke="#111" stroke-width="0.7" />
<line x1="120.2" y1="361" x2="122.39999999999999" y2="361" stroke="#111" stroke-width="0.7" />
<line x1="133.4" y1="358" x2="133.4" y2="364" stroke="#111" stroke-width="1.3" />
<line x1="132.3" y1="358" x2="134.5" y2="358" stroke="#111" stroke-width="0.7" />
<line x1="132.3" y1="364" x2="134.5" y2="364" stroke="#111" stroke-width="0.7" />
<line x1="49" y1="314.5" x2="49" y2="318.5" stroke="#111" stroke-width="0.7" />
<path d="M47.5,317.7 L50.5,317.7 L49,315.0Z" fill="#111"/>
<line x1="97.2" y1="348.0" x2="97.2" y2="352.0" stroke="#111" stroke-width="0.7" />
<path d="M95.7,351.2 L98.7,351.2 L97.2,348.5Z" fill="#111"/>
<line x1="109.3" y1="352.0" x2="109.3" y2="356.0" stroke="#111" stroke-width="0.7" />
<path d="M107.8,355.2 L110.8,355.2 L109.3,352.5Z" fill="#111"/>
<line x1="121.3" y1="357.2" x2="121.3" y2="361.2" stroke="#111" stroke-width="0.7" />
<path d="M119.8,360.4 L122.8,360.4 L121.3,357.7Z" fill="#111"/>
<line x1="133.4" y1="359.5" x2="133.4" y2="363.5" stroke="#111" stroke-width="0.7" />
<path d="M131.9,362.7 L134.9,362.7 L133.4,360.0Z" fill="#111"/>
<line x1="49" y1="313.4" x2="49" y2="317.4" stroke="#111" stroke-width="0.7" />
<circle cx="49" cy="315.4" r="1.3" fill="#111"/>
<line x1="97.2" y1="344.0" x2="97.2" y2="348.0" stroke="#111" stroke-width="0.7" />
<circle cx="97.2" cy="346" r="1.3" fill="#111"/>
<line x1="109.3" y1="350.9" x2="109.3" y2="354.9" stroke="#111" stroke-width="0.7" />
<circle cx="109.3" cy="352.9" r="1.3" fill="#111"/>
<line x1="121.3" y1="355.1" x2="121.3" y2="359.1" stroke="#111" stroke-width="0.7" />
<circle cx="121.3" cy="357.1" r="1.3" fill="#111"/>
<line x1="133.4" y1="358.4" x2="133.4" y2="362.4" stroke="#111" stroke-width="0.7" />
<circle cx="133.4" cy="360.4" r="1.3" fill="#111"/>
<line x1="49" y1="317.4" x2="49" y2="321.4" stroke="#111" stroke-width="0.7" />
<path d="M47.5,318.2 L50.5,318.2 L49,320.9Z" fill="#111"/>
<line x1="97.2" y1="350.0" x2="97.2" y2="354.0" stroke="#111" stroke-width="0.7" />
<path d="M95.7,350.8 L98.7,350.8 L97.2,353.5Z" fill="#111"/>
<line x1="109.3" y1="352.0" x2="109.3" y2="356.0" stroke="#111" stroke-width="0.7" />
<path d="M107.8,352.8 L110.8,352.8 L109.3,355.5Z" fill="#111"/>
<line x1="121.3" y1="357.2" x2="121.3" y2="361.2" stroke="#111" stroke-width="0.7" />
<path d="M119.8,358.0 L122.8,358.0 L121.3,360.7Z" fill="#111"/>
<line x1="133.4" y1="359.0" x2="133.4" y2="363.0" stroke="#111" stroke-width="0.7" />
<path d="M131.9,359.8 L134.9,359.8 L133.4,362.5Z" fill="#111"/>
<line x1="49" y1="311.6" x2="49" y2="315.6" stroke="#111" stroke-width="0.7" />
<rect x="47.5" y="312.1" width="3.0" height="3.0" fill="#111" stroke="none" stroke-width="0" />
<line x1="97.2" y1="336.3" x2="97.2" y2="340.3" stroke="#111" stroke-width="0.7" />
<rect x="95.7" y="336.8" width="3.0" height="3.0" fill="#111" stroke="none" stroke-width="0" />
<line x1="109.3" y1="343.6" x2="109.3" y2="347.6" stroke="#111" stroke-width="0.7" />
<rect x="107.8" y="344.1" width="3.0" height="3.0" fill="#111" stroke="none" stroke-width="0" />
<line x1="121.3" y1="350.9" x2="121.3" y2="354.9" stroke="#111" stroke-width="0.7" />
<rect x="119.8" y="351.4" width="3.0" height="3.0" fill="#111" stroke="none" stroke-width="0" />
<line x1="133.4" y1="352.0" x2="133.4" y2="356.0" stroke="#111" stroke-width="0.7" />
<rect x="131.9" y="352.5" width="3.0" height="3.0" fill="#111" stroke="none" stroke-width="0" />
<circle cx="97.00" cy="332.00" r="0.9" fill="#1a1a1a"/>
<circle cx="106.55" cy="341.30" r="0.9" fill="#1a1a1a"/>
<circle cx="109.40" cy="341.30" r="0.9" fill="#1a1a1a"/>
<circle cx="112.25" cy="341.30" r="0.9" fill="#1a1a1a"/>
<circle cx="119.98" cy="348.30" r="0.9" fill="#1a1a1a"/>
<circle cx="122.83" cy="348.30" r="0.9" fill="#1a1a1a"/>
<circle cx="130.75" cy="349.40" r="0.9" fill="#1a1a1a"/>
<circle cx="133.60" cy="349.40" r="0.9" fill="#1a1a1a"/>
<circle cx="136.45" cy="349.40" r="0.9" fill="#1a1a1a"/>
<text x="94" y="359.0" font-size="6.6" text-anchor="middle" fill="#333" stroke="#333" stroke-width="0.22" font-weight="normal" >ns</text>
<text x="109.3" y="363.0" font-size="6.6" text-anchor="middle" fill="#333" stroke="#333" stroke-width="0.22" font-weight="normal" >ns</text>
<text x="121.5" y="367.6" font-size="6.6" text-anchor="middle" fill="#333" stroke="#333" stroke-width="0.22" font-weight="normal" >ns</text>
<text x="129.3" y="368.7" font-size="6.6" text-anchor="middle" fill="#333" stroke="#333" stroke-width="0.22" font-weight="normal" >ns</text>
<text x="136.2" y="372.2" font-size="6.6" text-anchor="middle" fill="#333" stroke="#333" stroke-width="0.22" font-weight="normal" >ns</text>
<line x1="151.0" y1="286.8" x2="161.8" y2="286.8" stroke="#6aa070" stroke-width="0.9" />
<circle cx="156.5" cy="286.8" r="1.4" fill="#111"/>
<text x="164.9" y="289.3" font-size="7" text-anchor="start" fill="#3a3a3a" stroke="#3a3a3a" stroke-width="0.22" font-weight="normal" >CTR</text>
<line x1="151.0" y1="297.2" x2="161.8" y2="297.2" stroke="#402a38" stroke-width="0.9" />
<rect x="155.1" y="295.8" width="2.8" height="2.8" fill="#111" stroke="none" stroke-width="0" />
<text x="164.9" y="299.7" font-size="7" text-anchor="start" fill="#3a3a3a" stroke="#3a3a3a" stroke-width="0.22" font-weight="normal" >NA 2 μM</text>
<line x1="151.0" y1="307.7" x2="161.8" y2="307.7" stroke="#eee8b0" stroke-width="0.9" />
<path d="M155.0,308.9 L158.0,308.9 L156.5,306.09999999999997Z" fill="#111"/>
<text x="164.9" y="310.2" font-size="7" text-anchor="start" fill="#3a3a3a" stroke="#3a3a3a" stroke-width="0.22" font-weight="normal" >2HNA 1mM</text>
<line x1="151.0" y1="318.3" x2="161.8" y2="318.3" stroke="#4a5a92" stroke-width="0.9" />
<path d="M155.0,317.1 L158.0,317.1 L156.5,319.90000000000003Z" fill="#111"/>
<text x="164.9" y="320.8" font-size="7" text-anchor="start" fill="#3a3a3a" stroke="#3a3a3a" stroke-width="0.22" font-weight="normal" >+NA+ 2HNA</text>
<line x1="48.9" y1="427.8" x2="48.9" y2="517.6" stroke="#2a2a2a" stroke-width="1.25" />
<line x1="45.8" y1="517.6" x2="49" y2="517.6" stroke="#2a2a2a" stroke-width="1.0" />
<text x="43.0" y="520.5" font-size="7.1" text-anchor="end" fill="#3a3a3a" stroke="#3a3a3a" stroke-width="0.22" font-weight="normal" >0</text>
<line x1="45.8" y1="488.40000000000003" x2="49" y2="488.40000000000003" stroke="#2a2a2a" stroke-width="1.0" />
<text x="43.0" y="491.3" font-size="7.1" text-anchor="end" fill="#3a3a3a" stroke="#3a3a3a" stroke-width="0.22" font-weight="normal" >50</text>
<line x1="45.8" y1="459.2" x2="49" y2="459.2" stroke="#2a2a2a" stroke-width="1.0" />
<text x="43.0" y="462.09999999999997" font-size="7.1" text-anchor="end" fill="#3a3a3a" stroke="#3a3a3a" stroke-width="0.22" font-weight="normal" >100</text>
<line x1="45.8" y1="430.0" x2="49" y2="430.0" stroke="#2a2a2a" stroke-width="1.0" />
<text x="43.0" y="432.9" font-size="7.1" text-anchor="end" fill="#3a3a3a" stroke="#3a3a3a" stroke-width="0.22" font-weight="normal" >150</text>
<line x1="49" y1="517.6" x2="148" y2="517.6" stroke="#2a2a2a" stroke-width="1.0" />
<line x1="49.0" y1="517.6" x2="49.0" y2="520.4" stroke="#2a2a2a" stroke-width="0.8" />
<text x="49.0" y="530.3000000000001" font-size="7.4" text-anchor="middle" fill="#3a3a3a" stroke="#3a3a3a" stroke-width="0.22" font-weight="normal" >0</text>
<line x1="73.1" y1="517.6" x2="73.1" y2="520.4" stroke="#2a2a2a" stroke-width="0.8" />
<text x="73.1" y="530.3000000000001" font-size="7.4" text-anchor="middle" fill="#3a3a3a" stroke="#3a3a3a" stroke-width="0.22" font-weight="normal" >1</text>
<line x1="97.2" y1="517.6" x2="97.2" y2="520.4" stroke="#2a2a2a" stroke-width="0.8" />
<text x="97.2" y="530.3000000000001" font-size="7.4" text-anchor="middle" fill="#3a3a3a" stroke="#3a3a3a" stroke-width="0.22" font-weight="normal" >2</text>
<line x1="121.30000000000001" y1="517.6" x2="121.30000000000001" y2="520.4" stroke="#2a2a2a" stroke-width="0.8" />
<text x="121.30000000000001" y="530.3000000000001" font-size="7.4" text-anchor="middle" fill="#3a3a3a" stroke="#3a3a3a" stroke-width="0.22" font-weight="normal" >3</text>
<line x1="145.4" y1="517.6" x2="145.4" y2="520.4" stroke="#2a2a2a" stroke-width="0.8" />
<text x="145.4" y="530.3000000000001" font-size="7.4" text-anchor="middle" fill="#3a3a3a" stroke="#3a3a3a" stroke-width="0.22" font-weight="normal" >4</text>
<text x="98.9" y="541.9" font-size="9" text-anchor="middle" fill="#222" stroke="#222" stroke-width="0.25" textLength="33" lengthAdjust="spacingAndGlyphs">FK866 (nM)</text>
<text x="99" y="422.6" font-size="8.8" text-anchor="middle" fill="#222" stroke="#222" stroke-width="0.22" font-weight="normal" >shNAPRT#5</text>
<text transform="translate(23.78,473.20) rotate(-90)" x="0" y="0" font-size="8" text-anchor="middle" fill="#2a2a2a" stroke="#2a2a2a" stroke-width="0.25" textLength="58" lengthAdjust="spacingAndGlyphs" >Specific viability (%)</text>
<polyline points="49,459.8 97.2,487 109.3,493.3 121.3,497.2 133.4,500" fill="none" stroke="#e0d060" stroke-width="1.25"/>
<polyline points="49,461 97.2,484.9 109.3,488.5 121.3,492.2 133.4,496.5" fill="none" stroke="#3a9a60" stroke-width="1.25"/>
<polyline points="49,461.5 97.2,482.7 109.3,487 121.3,491 133.4,495" fill="none" stroke="#2a6aa8" stroke-width="1.25"/>
<polyline points="49,456.9 97.2,467.4 109.3,468.2 121.3,473.3 133.4,480.5" fill="none" stroke="#c43a58" stroke-width="1.25"/>
<line x1="49" y1="454.6" x2="49" y2="462.5" stroke="#111" stroke-width="1.3" />
<line x1="47.9" y1="454.6" x2="50.1" y2="454.6" stroke="#111" stroke-width="0.7" />
<line x1="47.9" y1="462.5" x2="50.1" y2="462.5" stroke="#111" stroke-width="0.7" />
<line x1="97.2" y1="465.5" x2="97.2" y2="469.5" stroke="#111" stroke-width="1.3" />
<line x1="96.10000000000001" y1="465.5" x2="98.3" y2="465.5" stroke="#111" stroke-width="0.7" />
<line x1="96.10000000000001" y1="469.5" x2="98.3" y2="469.5" stroke="#111" stroke-width="0.7" />
<line x1="97.2" y1="479.5" x2="97.2" y2="489" stroke="#111" stroke-width="1.3" />
<line x1="96.10000000000001" y1="479.5" x2="98.3" y2="479.5" stroke="#111" stroke-width="0.7" />
<line x1="96.10000000000001" y1="489" x2="98.3" y2="489" stroke="#111" stroke-width="0.7" />
<line x1="109.3" y1="466" x2="109.3" y2="470" stroke="#111" stroke-width="1.3" />
<line x1="108.2" y1="466" x2="110.39999999999999" y2="466" stroke="#111" stroke-width="0.7" />
<line x1="108.2" y1="470" x2="110.39999999999999" y2="470" stroke="#111" stroke-width="0.7" />
<line x1="109.3" y1="485" x2="109.3" y2="491" stroke="#111" stroke-width="1.3" />
<line x1="108.2" y1="485" x2="110.39999999999999" y2="485" stroke="#111" stroke-width="0.7" />
<line x1="108.2" y1="491" x2="110.39999999999999" y2="491" stroke="#111" stroke-width="0.7" />
<line x1="121.3" y1="489" x2="121.3" y2="499" stroke="#111" stroke-width="1.3" />
<line x1="120.2" y1="489" x2="122.39999999999999" y2="489" stroke="#111" stroke-width="0.7" />
<line x1="120.2" y1="499" x2="122.39999999999999" y2="499" stroke="#111" stroke-width="0.7" />
<line x1="133.4" y1="479" x2="133.4" y2="482" stroke="#111" stroke-width="1.3" />
<line x1="132.3" y1="479" x2="134.5" y2="479" stroke="#111" stroke-width="0.7" />
<line x1="132.3" y1="482" x2="134.5" y2="482" stroke="#111" stroke-width="0.7" />
<line x1="133.4" y1="493" x2="133.4" y2="502" stroke="#111" stroke-width="1.3" />
<line x1="132.3" y1="493" x2="134.5" y2="493" stroke="#111" stroke-width="0.7" />
<line x1="132.3" y1="502" x2="134.5" y2="502" stroke="#111" stroke-width="0.7" />
<line x1="49" y1="457.8" x2="49" y2="461.8" stroke="#111" stroke-width="0.7" />
<path d="M47.5,461.0 L50.5,461.0 L49,458.3Z" fill="#111"/>
<line x1="97.2" y1="485.0" x2="97.2" y2="489.0" stroke="#111" stroke-width="0.7" />
<path d="M95.7,488.2 L98.7,488.2 L97.2,485.5Z" fill="#111"/>
<line x1="109.3" y1="491.3" x2="109.3" y2="495.3" stroke="#111" stroke-width="0.7" />
<path d="M107.8,494.5 L110.8,494.5 L109.3,491.8Z" fill="#111"/>
<line x1="121.3" y1="495.2" x2="121.3" y2="499.2" stroke="#111" stroke-width="0.7" />
<path d="M119.8,498.4 L122.8,498.4 L121.3,495.7Z" fill="#111"/>
<line x1="133.4" y1="498.0" x2="133.4" y2="502.0" stroke="#111" stroke-width="0.7" />
<path d="M131.9,501.2 L134.9,501.2 L133.4,498.5Z" fill="#111"/>
<line x1="49" y1="459.0" x2="49" y2="463.0" stroke="#111" stroke-width="0.7" />
<circle cx="49" cy="461" r="1.3" fill="#111"/>
<line x1="97.2" y1="482.9" x2="97.2" y2="486.9" stroke="#111" stroke-width="0.7" />
<circle cx="97.2" cy="484.9" r="1.3" fill="#111"/>
<line x1="109.3" y1="486.5" x2="109.3" y2="490.5" stroke="#111" stroke-width="0.7" />
<circle cx="109.3" cy="488.5" r="1.3" fill="#111"/>
<line x1="121.3" y1="490.2" x2="121.3" y2="494.2" stroke="#111" stroke-width="0.7" />
<circle cx="121.3" cy="492.2" r="1.3" fill="#111"/>
<line x1="133.4" y1="494.5" x2="133.4" y2="498.5" stroke="#111" stroke-width="0.7" />
<circle cx="133.4" cy="496.5" r="1.3" fill="#111"/>
<line x1="49" y1="459.5" x2="49" y2="463.5" stroke="#111" stroke-width="0.7" />
<path d="M47.5,460.3 L50.5,460.3 L49,463.0Z" fill="#111"/>
<line x1="97.2" y1="480.7" x2="97.2" y2="484.7" stroke="#111" stroke-width="0.7" />
<path d="M95.7,481.5 L98.7,481.5 L97.2,484.2Z" fill="#111"/>
<line x1="109.3" y1="485.0" x2="109.3" y2="489.0" stroke="#111" stroke-width="0.7" />
<path d="M107.8,485.8 L110.8,485.8 L109.3,488.5Z" fill="#111"/>
<line x1="121.3" y1="489.0" x2="121.3" y2="493.0" stroke="#111" stroke-width="0.7" />
<path d="M119.8,489.8 L122.8,489.8 L121.3,492.5Z" fill="#111"/>
<line x1="133.4" y1="493.0" x2="133.4" y2="497.0" stroke="#111" stroke-width="0.7" />
<path d="M131.9,493.8 L134.9,493.8 L133.4,496.5Z" fill="#111"/>
<line x1="49" y1="454.9" x2="49" y2="458.9" stroke="#111" stroke-width="0.7" />
<rect x="47.5" y="455.4" width="3.0" height="3.0" fill="#111" stroke="none" stroke-width="0" />
<line x1="97.2" y1="465.4" x2="97.2" y2="469.4" stroke="#111" stroke-width="0.7" />
<rect x="95.7" y="465.9" width="3.0" height="3.0" fill="#111" stroke="none" stroke-width="0" />
<line x1="109.3" y1="466.2" x2="109.3" y2="470.2" stroke="#111" stroke-width="0.7" />
<rect x="107.8" y="466.7" width="3.0" height="3.0" fill="#111" stroke="none" stroke-width="0" />
<line x1="121.3" y1="471.3" x2="121.3" y2="475.3" stroke="#111" stroke-width="0.7" />
<rect x="119.8" y="471.8" width="3.0" height="3.0" fill="#111" stroke="none" stroke-width="0" />
<line x1="133.4" y1="478.5" x2="133.4" y2="482.5" stroke="#111" stroke-width="0.7" />
<rect x="131.9" y="479.0" width="3.0" height="3.0" fill="#111" stroke="none" stroke-width="0" />
<circle cx="94.45" cy="460.50" r="0.9" fill="#1a1a1a"/>
<circle cx="97.30" cy="460.50" r="0.9" fill="#1a1a1a"/>
<circle cx="100.15" cy="460.50" r="0.9" fill="#1a1a1a"/>
<circle cx="106.45" cy="462.40" r="0.9" fill="#1a1a1a"/>
<circle cx="109.30" cy="462.40" r="0.9" fill="#1a1a1a"/>
<circle cx="112.15" cy="462.40" r="0.9" fill="#1a1a1a"/>
<circle cx="116.92" cy="469.30" r="0.9" fill="#1a1a1a"/>
<circle cx="119.77" cy="469.30" r="0.9" fill="#1a1a1a"/>
<circle cx="122.62" cy="469.30" r="0.9" fill="#1a1a1a"/>
<circle cx="125.47" cy="469.30" r="0.9" fill="#1a1a1a"/>
<circle cx="130.45" cy="476.60" r="0.9" fill="#1a1a1a"/>
<circle cx="133.30" cy="476.60" r="0.9" fill="#1a1a1a"/>
<circle cx="136.15" cy="476.60" r="0.9" fill="#1a1a1a"/>
<circle cx="97.30" cy="476.90" r="0.9" fill="#1a1a1a"/>
<text x="109.5" y="483.7" font-size="6.6" text-anchor="middle" fill="#333" stroke="#333" stroke-width="0.22" font-weight="normal" >ns</text>
<text x="121.3" y="489.0" font-size="6.6" text-anchor="middle" fill="#333" stroke="#333" stroke-width="0.22" font-weight="normal" >ns</text>
<text x="133.6" y="492.7" font-size="6.6" text-anchor="middle" fill="#333" stroke="#333" stroke-width="0.22" font-weight="normal" >ns</text>
<text x="97.3" y="495.3" font-size="6.6" text-anchor="middle" fill="#333" stroke="#333" stroke-width="0.22" font-weight="normal" >ns</text>
<circle cx="109.30" cy="498.00" r="0.9" fill="#1a1a1a"/>
<circle cx="121.20" cy="502.30" r="0.9" fill="#1a1a1a"/>
<text x="133.3" y="507.2" font-size="6.6" text-anchor="middle" fill="#333" stroke="#333" stroke-width="0.22" font-weight="normal" >ns</text>
<line x1="151.0" y1="431.5" x2="161.8" y2="431.5" stroke="#2e4e3e" stroke-width="0.9" />
<circle cx="156.5" cy="431.5" r="1.4" fill="#111"/>
<text x="164.9" y="434.0" font-size="7" text-anchor="start" fill="#3a3a3a" stroke="#3a3a3a" stroke-width="0.22" font-weight="normal" >CTR</text>
<line x1="151.0" y1="441.7" x2="161.8" y2="441.7" stroke="#8a3a52" stroke-width="0.9" />
<rect x="155.1" y="440.3" width="2.8" height="2.8" fill="#111" stroke="none" stroke-width="0" />
<text x="164.9" y="444.2" font-size="7" text-anchor="start" fill="#3a3a3a" stroke="#3a3a3a" stroke-width="0.22" font-weight="normal" >NA 2 μM</text>
<line x1="151.0" y1="452.2" x2="161.8" y2="452.2" stroke="#e8e070" stroke-width="0.9" />
<path d="M155.0,453.4 L158.0,453.4 L156.5,450.59999999999997Z" fill="#111"/>
<text x="164.9" y="454.7" font-size="7" text-anchor="start" fill="#3a3a3a" stroke="#3a3a3a" stroke-width="0.22" font-weight="normal" >2HNA 1mM</text>
<line x1="151.0" y1="462.6" x2="161.8" y2="462.6" stroke="#22406a" stroke-width="0.9" />
<path d="M155.0,461.40000000000003 L158.0,461.40000000000003 L156.5,464.20000000000005Z" fill="#111"/>
<text x="164.9" y="465.1" font-size="7" text-anchor="start" fill="#3a3a3a" stroke="#3a3a3a" stroke-width="0.22" font-weight="normal" >+NA+ 2HNA</text>
<text x="217.6" y="137.2" font-size="10" text-anchor="start" fill="#111" stroke="#111" stroke-width="0.22" font-weight="bold" >D</text>
<g transform="translate(0,0)">
<path d="M278.5,184.6 C284,186 288.8,189 288.5,192.8 C288.2,196.4 279,196.8 272,196 C266,195.3 260,194.4 257.3,193.2" stroke="#d99a9a" stroke-width="1.7" fill="none" stroke-linecap="round"/>
<path d="M230.4,174.8 C231.5,172.2 234.5,170 238.5,169.4 C240.5,168.6 242,167.6 244,167.6 C246,168 247,169.4 249,169.8 C254,170.4 262,170 269.4,170.4 C274.5,171.5 279.2,176 280.4,182 C281.4,186.5 279.5,189.4 275,190 C270,190.8 262,190.6 256,190.2 C251,189.8 248,189.6 245.5,189 C241,187 237.5,183.5 235,180.5 C232.5,178.5 230.6,176.5 230.4,174.8Z" fill="#ececef" stroke="#c8c8ce" stroke-width="0.6"/>
<path d="M246,184.5 C254,183.6 264,183 272,182 C276,181.4 279,180.6 280.6,180 C281.6,186 279.5,189.4 275,190 C270,190.8 262,190.6 256,190.2 C251,189.8 248,189.6 245.5,189Z" fill="#d8d8dc"/>
<path d="M262,188 C262,183 266,180.5 271,181 C275,181.6 277,185 276,188.5 C275,190.5 272,191.2 268,191 C265,190.8 262,190 262,188Z" fill="#e4cccc"/>
<path d="M266,190 C265.5,191.6 264,192.4 261.6,192.8 L270,192.8" stroke="#d99a9a" stroke-width="1.0" fill="none" />
<path d="M244,184.5 C246,185.5 247.5,187.5 246.5,189.4 C245.5,190.6 243,191 239,191 C238.6,190.2 240,189.6 242,189.2 C242.5,188 242.6,186 244,184.5Z" fill="#e2d2d2" stroke="#d0a8a8" stroke-width="0.5"/>
<ellipse cx="246" cy="171.4" rx="3.3" ry="4.1" fill="#efe2e2" stroke="#c8b8b8" stroke-width="0.5"/>
<ellipse cx="246.6" cy="171.9" rx="1.9" ry="2.7" fill="#e6b0b0"/>
<circle cx="237.4" cy="173.2" r="0.75" fill="#333"/>
<circle cx="268.0" cy="172.8" r="2.0" fill="#e46a72" stroke="#c84a58" stroke-width="0.5"/>
<circle cx="273.20000000000005" cy="172.60000000000002" r="2.0" fill="#e46a72" stroke="#c84a58" stroke-width="0.5"/>
<circle cx="267.6" cy="176.60000000000002" r="2.0" fill="#e46a72" stroke="#c84a58" stroke-width="0.5"/>
<circle cx="273.6" cy="176.60000000000002" r="2.0" fill="#e46a72" stroke="#c84a58" stroke-width="0.5"/>
<circle cx="270.6" cy="171.4" r="1.8" fill="#e46a72" stroke="#c84a58" stroke-width="0.5"/>
<circle cx="270.6" cy="178.4" r="1.8" fill="#e46a72" stroke="#c84a58" stroke-width="0.5"/>
<circle cx="270.6" cy="174.8" r="2.4" fill="#e46a72" stroke="#c84a58" stroke-width="0.5"/>
</g>
<g transform="translate(14.8,46.8)">
<path d="M278.5,184.6 C284,186 288.8,189 288.5,192.8 C288.2,196.4 279,196.8 272,196 C266,195.3 260,194.4 257.3,193.2" stroke="#d99a9a" stroke-width="1.7" fill="none" stroke-linecap="round"/>
<path d="M230.4,174.8 C231.5,172.2 234.5,170 238.5,169.4 C240.5,168.6 242,167.6 244,167.6 C246,168 247,169.4 249,169.8 C254,170.4 262,170 269.4,170.4 C274.5,171.5 279.2,176 280.4,182 C281.4,186.5 279.5,189.4 275,190 C270,190.8 262,190.6 256,190.2 C251,189.8 248,189.6 245.5,189 C241,187 237.5,183.5 235,180.5 C232.5,178.5 230.6,176.5 230.4,174.8Z" fill="#ececef" stroke="#c8c8ce" stroke-width="0.6"/>
<path d="M246,184.5 C254,183.6 264,183 272,182 C276,181.4 279,180.6 280.6,180 C281.6,186 279.5,189.4 275,190 C270,190.8 262,190.6 256,190.2 C251,189.8 248,189.6 245.5,189Z" fill="#d8d8dc"/>
<path d="M262,188 C262,183 266,180.5 271,181 C275,181.6 277,185 276,188.5 C275,190.5 272,191.2 268,191 C265,190.8 262,190 262,188Z" fill="#e4cccc"/>
<path d="M266,190 C265.5,191.6 264,192.4 261.6,192.8 L270,192.8" stroke="#d99a9a" stroke-width="1.0" fill="none" />
<path d="M244,184.5 C246,185.5 247.5,187.5 246.5,189.4 C245.5,190.6 243,191 239,191 C238.6,190.2 240,189.6 242,189.2 C242.5,188 242.6,186 244,184.5Z" fill="#e2d2d2" stroke="#d0a8a8" stroke-width="0.5"/>
<ellipse cx="246" cy="171.4" rx="3.3" ry="4.1" fill="#efe2e2" stroke="#c8b8b8" stroke-width="0.5"/>
<ellipse cx="246.6" cy="171.9" rx="1.9" ry="2.7" fill="#e6b0b0"/>
<circle cx="237.4" cy="173.2" r="0.75" fill="#333"/>
<circle cx="268.0" cy="172.8" r="2.0" fill="#3a78d0" stroke="#2a5aaa" stroke-width="0.5"/>
<circle cx="273.20000000000005" cy="172.60000000000002" r="2.0" fill="#3a78d0" stroke="#2a5aaa" stroke-width="0.5"/>
<circle cx="267.6" cy="176.60000000000002" r="2.0" fill="#3a78d0" stroke="#2a5aaa" stroke-width="0.5"/>
<circle cx="273.6" cy="176.60000000000002" r="2.0" fill="#3a78d0" stroke="#2a5aaa" stroke-width="0.5"/>
<circle cx="270.6" cy="171.4" r="1.8" fill="#3a78d0" stroke="#2a5aaa" stroke-width="0.5"/>
<circle cx="270.6" cy="178.4" r="1.8" fill="#3a78d0" stroke="#2a5aaa" stroke-width="0.5"/>
<circle cx="270.6" cy="174.8" r="2.4" fill="#3a78d0" stroke="#2a5aaa" stroke-width="0.5"/>
</g>
<text x="240.8" y="208.4" font-size="7.5" text-anchor="start" fill="#333" stroke="#333" stroke-width="0.22" font-weight="normal" >NOD/SCID mice</text>
<circle cx="315.8" cy="145.8" r="4.2" fill="#f2aaae" stroke="#dc8890" stroke-width="0.8"/>
<circle cx="322.7" cy="146.5" r="4.6" fill="#f2aaae" stroke="#dc8890" stroke-width="0.8"/>
<circle cx="331.5" cy="145.4" r="5.6" fill="#f2aaae" stroke="#dc8890" stroke-width="0.8"/>
<circle cx="335.8" cy="152.7" r="4.6" fill="#f2aaae" stroke="#dc8890" stroke-width="0.8"/>
<circle cx="337.3" cy="158.8" r="3.8" fill="#f2aaae" stroke="#dc8890" stroke-width="0.8"/>
<circle cx="332.7" cy="164.2" r="5.0" fill="#f2aaae" stroke="#dc8890" stroke-width="0.8"/>
<circle cx="323.5" cy="165.8" r="4.6" fill="#f2aaae" stroke="#dc8890" stroke-width="0.8"/>
<circle cx="315.8" cy="160.4" r="4.6" fill="#f2aaae" stroke="#dc8890" stroke-width="0.8"/>
<circle cx="315.8" cy="153.5" r="5.0" fill="#f2aaae" stroke="#dc8890" stroke-width="0.8"/>
<circle cx="325.4" cy="157.6" r="6.6" fill="#f2aaae" stroke="#dc8890" stroke-width="0.8"/>
<circle cx="315.8" cy="145.8" r="1.76" fill="#d98c92"/>
<circle cx="322.7" cy="146.5" r="1.93" fill="#d98c92"/>
<circle cx="331.5" cy="145.4" r="2.35" fill="#d98c92"/>
<circle cx="335.8" cy="152.7" r="1.93" fill="#d98c92"/>
<circle cx="337.3" cy="158.8" r="1.60" fill="#d98c92"/>
<circle cx="332.7" cy="164.2" r="2.10" fill="#d98c92"/>
<circle cx="323.5" cy="165.8" r="1.93" fill="#d98c92"/>
<circle cx="315.8" cy="160.4" r="1.93" fill="#d98c92"/>
<circle cx="315.8" cy="153.5" r="2.10" fill="#d98c92"/>
<circle cx="325.4" cy="157.6" r="2.77" fill="#d98c92"/>
<path d="M311.5,158 C311,162 313,166 317,167.5 C319,168.5 321,169.5 324,170 C321,167 317,165 314.5,162Z" fill="#c8787e" opacity="0.6"/>
<circle cx="412.5" cy="147" r="5.0" fill="#3c7acc" stroke="#2f62b0" stroke-width="0.8"/>
<circle cx="421.5" cy="146" r="5.8" fill="#3c7acc" stroke="#2f62b0" stroke-width="0.8"/>
<circle cx="426" cy="154" r="5.0" fill="#3c7acc" stroke="#2f62b0" stroke-width="0.8"/>
<circle cx="423" cy="163.5" r="5.0" fill="#3c7acc" stroke="#2f62b0" stroke-width="0.8"/>
<circle cx="414" cy="166" r="4.6" fill="#3c7acc" stroke="#2f62b0" stroke-width="0.8"/>
<circle cx="407" cy="163" r="4.8" fill="#3c7acc" stroke="#2f62b0" stroke-width="0.8"/>
<circle cx="405.5" cy="153.5" r="5.0" fill="#3c7acc" stroke="#2f62b0" stroke-width="0.8"/>
<circle cx="415.4" cy="157.5" r="7.4" fill="#3c7acc" stroke="#2f62b0" stroke-width="0.8"/>
<circle cx="412.5" cy="147" r="2.10" fill="#2a5aa4"/>
<circle cx="421.5" cy="146" r="2.44" fill="#2a5aa4"/>
<circle cx="426" cy="154" r="2.10" fill="#2a5aa4"/>
<circle cx="423" cy="163.5" r="2.10" fill="#2a5aa4"/>
<circle cx="414" cy="166" r="1.93" fill="#2a5aa4"/>
<circle cx="407" cy="163" r="2.02" fill="#2a5aa4"/>
<circle cx="405.5" cy="153.5" r="2.10" fill="#2a5aa4"/>
<circle cx="415.4" cy="157.5" r="3.11" fill="#2a5aa4"/>
<text x="343.8" y="153.6" font-size="7.3" text-anchor="start" fill="#333" stroke="#333" stroke-width="0.22" font-weight="normal" >scramble cells</text>
<text x="437.1" y="157.6" font-size="7.4" text-anchor="start" fill="#333" stroke="#333" stroke-width="0.22" font-weight="normal" >sh NAPRT#2</text>
<line x1="321.7" y1="200.8" x2="467" y2="200.8" stroke="#333" stroke-width="0.9" />
<path d="M470.8,200.8 L465.8,198.4 L465.8,203.2Z" fill="#222"/>
<line x1="321.7" y1="195.6" x2="321.7" y2="205.8" stroke="#333" stroke-width="0.9" />
<line x1="364.8" y1="195.6" x2="364.8" y2="205.8" stroke="#333" stroke-width="0.9" />
<line x1="389.4" y1="195.6" x2="389.4" y2="205.8" stroke="#333" stroke-width="0.9" />
<line x1="414.6" y1="195.6" x2="414.6" y2="205.8" stroke="#333" stroke-width="0.9" />
<text x="364.8" y="186.8" font-size="7" text-anchor="middle" fill="#5a8ed2" stroke="#5a8ed2" stroke-width="0.22" font-weight="normal" >week 1</text>
<text x="389.4" y="186.8" font-size="7" text-anchor="middle" fill="#5a8ed2" stroke="#5a8ed2" stroke-width="0.22" font-weight="normal" >week 2</text>
<text x="414.6" y="186.8" font-size="7" text-anchor="middle" fill="#5a8ed2" stroke="#5a8ed2" stroke-width="0.22" font-weight="normal" >week 3</text>
<path d="M359,210.4 V215 H418.3 V210.4 M389.4,215 V219.6" stroke="#333" stroke-width="0.9" fill="none" />
<text x="389.2" y="230.0" font-size="7.5" text-anchor="middle" fill="#e6643c" stroke="#e6643c" stroke-width="0.22" font-weight="normal" >FK866 (30mg/kg) twice a day</text>
<text x="217.6" y="268.6" font-size="10" text-anchor="start" fill="#111" stroke="#111" stroke-width="0.22" font-weight="bold" >E</text>
<defs><pattern id="dots" width="2" height="4" patternUnits="userSpaceOnUse"><rect width="2" height="4" fill="#fdfdfd"/><rect x="0" y="0" width="1" height="1" fill="#b4b4b4"/><rect x="1" y="2" width="1" height="1" fill="#b4b4b4"/></pattern><pattern id="dots2" width="2" height="2" patternUnits="userSpaceOnUse"><rect width="2" height="2" fill="#e2e2e2"/><rect x="0" y="0" width="1" height="1" fill="#b2b2b2"/></pattern></defs>
<rect x="276.4" y="270.4" width="71.1" height="105.3" fill="url(#dots)" stroke="none" stroke-width="0" />
<line x1="276.4" y1="270.4" x2="347.5" y2="270.4" stroke="#777" stroke-width="0.6" stroke-dasharray="1,1"/>
<line x1="276.4" y1="270.4" x2="276.4" y2="375.7" stroke="#333" stroke-width="0.9" stroke-dasharray="2,1.6"/>
<line x1="347.5" y1="270.4" x2="347.5" y2="375.7" stroke="#333" stroke-width="0.9" stroke-dasharray="2,1.6"/>
<text x="310.5" y="265.6" font-size="7" text-anchor="middle" fill="#222" stroke="#222" stroke-width="0.22" font-weight="normal" >Treatment</text>
<line x1="263.6" y1="268.8" x2="263.6" y2="375.7" stroke="#2a2a2a" stroke-width="1.15" />
<line x1="260.4" y1="375.7" x2="263.8" y2="375.7" stroke="#2a2a2a" stroke-width="1.0" />
<text x="257.4" y="378.5" font-size="7.6" text-anchor="end" fill="#3a3a3a" stroke="#3a3a3a" stroke-width="0.22" font-weight="normal" >0</text>
<line x1="260.4" y1="349.375" x2="263.8" y2="349.375" stroke="#2a2a2a" stroke-width="1.0" />
<text x="257.4" y="352.175" font-size="7.6" text-anchor="end" fill="#3a3a3a" stroke="#3a3a3a" stroke-width="0.22" font-weight="normal" >500</text>
<line x1="260.4" y1="323.05" x2="263.8" y2="323.05" stroke="#2a2a2a" stroke-width="1.0" />
<text x="257.4" y="325.85" font-size="7.6" text-anchor="end" fill="#3a3a3a" stroke="#3a3a3a" stroke-width="0.22" font-weight="normal" >1000</text>
<line x1="260.4" y1="296.725" x2="263.8" y2="296.725" stroke="#2a2a2a" stroke-width="1.0" />
<text x="257.4" y="299.52500000000003" font-size="7.6" text-anchor="end" fill="#3a3a3a" stroke="#3a3a3a" stroke-width="0.22" font-weight="normal" >1500</text>
<line x1="260.4" y1="270.4" x2="263.8" y2="270.4" stroke="#2a2a2a" stroke-width="1.0" />
<text x="257.4" y="273.2" font-size="7.6" text-anchor="end" fill="#3a3a3a" stroke="#3a3a3a" stroke-width="0.22" font-weight="normal" >2000</text>
<line x1="263.8" y1="375.7" x2="416" y2="375.7" stroke="#2a2a2a" stroke-width="1.0" />
<line x1="268.0" y1="375.7" x2="268.0" y2="378.6" stroke="#2a2a2a" stroke-width="0.8" />
<text transform="translate(268.0,388.4) scale(0.92,1)" x="0" y="0" font-size="7.4" text-anchor="middle" fill="#3a3a3a" stroke="#3a3a3a" stroke-width="0.22" font-weight="normal" >25</text>
<line x1="288.9" y1="375.7" x2="288.9" y2="378.6" stroke="#2a2a2a" stroke-width="0.8" />
<text transform="translate(288.9,388.4) scale(0.92,1)" x="0" y="0" font-size="7.4" text-anchor="middle" fill="#3a3a3a" stroke="#3a3a3a" stroke-width="0.22" font-weight="normal" >30</text>
<line x1="309.8" y1="375.7" x2="309.8" y2="378.6" stroke="#2a2a2a" stroke-width="0.8" />
<text transform="translate(309.8,388.4) scale(0.92,1)" x="0" y="0" font-size="7.4" text-anchor="middle" fill="#3a3a3a" stroke="#3a3a3a" stroke-width="0.22" font-weight="normal" >35</text>
<line x1="330.7" y1="375.7" x2="330.7" y2="378.6" stroke="#2a2a2a" stroke-width="0.8" />
<text transform="translate(330.7,388.4) scale(0.92,1)" x="0" y="0" font-size="7.4" text-anchor="middle" fill="#3a3a3a" stroke="#3a3a3a" stroke-width="0.22" font-weight="normal" >40</text>
<line x1="351.6" y1="375.7" x2="351.6" y2="378.6" stroke="#2a2a2a" stroke-width="0.8" />
<text transform="translate(351.6,388.4) scale(0.92,1)" x="0" y="0" font-size="7.4" text-anchor="middle" fill="#3a3a3a" stroke="#3a3a3a" stroke-width="0.22" font-weight="normal" >45</text>
<line x1="372.5" y1="375.7" x2="372.5" y2="378.6" stroke="#2a2a2a" stroke-width="0.8" />
<text transform="translate(372.5,388.4) scale(0.92,1)" x="0" y="0" font-size="7.4" text-anchor="middle" fill="#3a3a3a" stroke="#3a3a3a" stroke-width="0.22" font-weight="normal" >50</text>
<line x1="393.4" y1="375.7" x2="393.4" y2="378.6" stroke="#2a2a2a" stroke-width="0.8" />
<text transform="translate(393.4,388.4) scale(0.92,1)" x="0" y="0" font-size="7.4" text-anchor="middle" fill="#3a3a3a" stroke="#3a3a3a" stroke-width="0.22" font-weight="normal" >55</text>
<line x1="414.29999999999995" y1="375.7" x2="414.29999999999995" y2="378.6" stroke="#2a2a2a" stroke-width="0.8" />
<text transform="translate(414.29999999999995,388.4) scale(0.92,1)" x="0" y="0" font-size="7.4" text-anchor="middle" fill="#3a3a3a" stroke="#3a3a3a" stroke-width="0.22" font-weight="normal" >60</text>
<text x="340.2" y="400.2" font-size="8.4" text-anchor="middle" fill="#222" stroke="#222" stroke-width="0.25" textLength="68.5" lengthAdjust="spacingAndGlyphs">Days after cells injection</text>
<text transform="translate(233.4,324.8) rotate(-90)" font-size="8" text-anchor="middle" fill="#2a2a2a" stroke="#2a2a2a" stroke-width="0.25" textLength="59" lengthAdjust="spacingAndGlyphs">Tumor volume (mm<tspan font-size="4.6" dy="-2.4">3</tspan><tspan dy="2.4">)</tspan></text>
<polyline points="276.4,372.4 288.9,372 301.4,371.5 318.2,370.8 330.7,369.2 347.4,368.5 360.0,366.7 376.7,361.3" fill="none" stroke="#d6237f" stroke-width="1.1"/>
<line x1="276.36" y1="371.59999999999997" x2="276.36" y2="373.2" stroke="#d6237f" stroke-width="0.8" />
<line x1="274.76" y1="371.59999999999997" x2="277.96000000000004" y2="371.59999999999997" stroke="#d6237f" stroke-width="0.8" />
<line x1="274.76" y1="373.2" x2="277.96000000000004" y2="373.2" stroke="#d6237f" stroke-width="0.8" />
<circle cx="276.4" cy="372.4" r="1.7" fill="#d6237f"/>
<line x1="288.9" y1="371.2" x2="288.9" y2="372.8" stroke="#d6237f" stroke-width="0.8" />
<line x1="287.29999999999995" y1="371.2" x2="290.5" y2="371.2" stroke="#d6237f" stroke-width="0.8" />
<line x1="287.29999999999995" y1="372.8" x2="290.5" y2="372.8" stroke="#d6237f" stroke-width="0.8" />
<circle cx="288.9" cy="372" r="1.7" fill="#d6237f"/>
<line x1="301.44" y1="370.5" x2="301.44" y2="372.5" stroke="#d6237f" stroke-width="0.8" />
<line x1="299.84" y1="370.5" x2="303.04" y2="370.5" stroke="#d6237f" stroke-width="0.8" />
<line x1="299.84" y1="372.5" x2="303.04" y2="372.5" stroke="#d6237f" stroke-width="0.8" />
<circle cx="301.4" cy="371.5" r="1.7" fill="#d6237f"/>
<line x1="318.15999999999997" y1="369.8" x2="318.15999999999997" y2="371.8" stroke="#d6237f" stroke-width="0.8" />
<line x1="316.55999999999995" y1="369.8" x2="319.76" y2="369.8" stroke="#d6237f" stroke-width="0.8" />
<line x1="316.55999999999995" y1="371.8" x2="319.76" y2="371.8" stroke="#d6237f" stroke-width="0.8" />
<circle cx="318.2" cy="370.8" r="1.7" fill="#d6237f"/>
<line x1="330.7" y1="367.7" x2="330.7" y2="370.7" stroke="#d6237f" stroke-width="0.8" />
<line x1="329.09999999999997" y1="367.7" x2="332.3" y2="367.7" stroke="#d6237f" stroke-width="0.8" />
<line x1="329.09999999999997" y1="370.7" x2="332.3" y2="370.7" stroke="#d6237f" stroke-width="0.8" />
<circle cx="330.7" cy="369.2" r="1.7" fill="#d6237f"/>
<line x1="347.41999999999996" y1="366.5" x2="347.41999999999996" y2="370.5" stroke="#d6237f" stroke-width="0.8" />
<line x1="345.81999999999994" y1="366.5" x2="349.02" y2="366.5" stroke="#d6237f" stroke-width="0.8" />
<line x1="345.81999999999994" y1="370.5" x2="349.02" y2="370.5" stroke="#d6237f" stroke-width="0.8" />
<circle cx="347.4" cy="368.5" r="1.7" fill="#d6237f"/>
<line x1="359.96" y1="363.7" x2="359.96" y2="369.7" stroke="#d6237f" stroke-width="0.8" />
<line x1="358.35999999999996" y1="363.7" x2="361.56" y2="363.7" stroke="#d6237f" stroke-width="0.8" />
<line x1="358.35999999999996" y1="369.7" x2="361.56" y2="369.7" stroke="#d6237f" stroke-width="0.8" />
<circle cx="360.0" cy="366.7" r="1.7" fill="#d6237f"/>
<line x1="376.68" y1="356.3" x2="376.68" y2="366.3" stroke="#d6237f" stroke-width="0.8" />
<line x1="375.08" y1="356.3" x2="378.28000000000003" y2="356.3" stroke="#d6237f" stroke-width="0.8" />
<line x1="375.08" y1="366.3" x2="378.28000000000003" y2="366.3" stroke="#d6237f" stroke-width="0.8" />
<circle cx="376.7" cy="361.3" r="1.7" fill="#d6237f"/>
<polyline points="276.4,372.4 288.9,371.5 301.4,371.5 318.2,369.2 330.7,366.2 347.4,360.8 360.0,354.2 376.7,345.5" fill="none" stroke="#3cb2da" stroke-width="1.1"/>
<line x1="276.36" y1="371.59999999999997" x2="276.36" y2="373.2" stroke="#3cb2da" stroke-width="0.8" />
<line x1="274.76" y1="371.59999999999997" x2="277.96000000000004" y2="371.59999999999997" stroke="#3cb2da" stroke-width="0.8" />
<line x1="274.76" y1="373.2" x2="277.96000000000004" y2="373.2" stroke="#3cb2da" stroke-width="0.8" />
<circle cx="276.4" cy="372.4" r="1.7" fill="#3cb2da"/>
<line x1="288.9" y1="370.5" x2="288.9" y2="372.5" stroke="#3cb2da" stroke-width="0.8" />
<line x1="287.29999999999995" y1="370.5" x2="290.5" y2="370.5" stroke="#3cb2da" stroke-width="0.8" />
<line x1="287.29999999999995" y1="372.5" x2="290.5" y2="372.5" stroke="#3cb2da" stroke-width="0.8" />
<circle cx="288.9" cy="371.5" r="1.7" fill="#3cb2da"/>
<line x1="301.44" y1="370.3" x2="301.44" y2="372.7" stroke="#3cb2da" stroke-width="0.8" />
<line x1="299.84" y1="370.3" x2="303.04" y2="370.3" stroke="#3cb2da" stroke-width="0.8" />
<line x1="299.84" y1="372.7" x2="303.04" y2="372.7" stroke="#3cb2da" stroke-width="0.8" />
<circle cx="301.4" cy="371.5" r="1.7" fill="#3cb2da"/>
<line x1="318.15999999999997" y1="367.7" x2="318.15999999999997" y2="370.7" stroke="#3cb2da" stroke-width="0.8" />
<line x1="316.55999999999995" y1="367.7" x2="319.76" y2="367.7" stroke="#3cb2da" stroke-width="0.8" />
<line x1="316.55999999999995" y1="370.7" x2="319.76" y2="370.7" stroke="#3cb2da" stroke-width="0.8" />
<circle cx="318.2" cy="369.2" r="1.7" fill="#3cb2da"/>
<line x1="330.7" y1="363.7" x2="330.7" y2="368.7" stroke="#3cb2da" stroke-width="0.8" />
<line x1="329.09999999999997" y1="363.7" x2="332.3" y2="363.7" stroke="#3cb2da" stroke-width="0.8" />
<line x1="329.09999999999997" y1="368.7" x2="332.3" y2="368.7" stroke="#3cb2da" stroke-width="0.8" />
<circle cx="330.7" cy="366.2" r="1.7" fill="#3cb2da"/>
<line x1="347.41999999999996" y1="357.3" x2="347.41999999999996" y2="364.3" stroke="#3cb2da" stroke-width="0.8" />
<line x1="345.81999999999994" y1="357.3" x2="349.02" y2="357.3" stroke="#3cb2da" stroke-width="0.8" />
<line x1="345.81999999999994" y1="364.3" x2="349.02" y2="364.3" stroke="#3cb2da" stroke-width="0.8" />
<circle cx="347.4" cy="360.8" r="1.7" fill="#3cb2da"/>
<line x1="359.96" y1="349.7" x2="359.96" y2="358.7" stroke="#3cb2da" stroke-width="0.8" />
<line x1="358.35999999999996" y1="349.7" x2="361.56" y2="349.7" stroke="#3cb2da" stroke-width="0.8" />
<line x1="358.35999999999996" y1="358.7" x2="361.56" y2="358.7" stroke="#3cb2da" stroke-width="0.8" />
<circle cx="360.0" cy="354.2" r="1.7" fill="#3cb2da"/>
<line x1="376.68" y1="338.5" x2="376.68" y2="352.5" stroke="#3cb2da" stroke-width="0.8" />
<line x1="375.08" y1="338.5" x2="378.28000000000003" y2="338.5" stroke="#3cb2da" stroke-width="0.8" />
<line x1="375.08" y1="352.5" x2="378.28000000000003" y2="352.5" stroke="#3cb2da" stroke-width="0.8" />
<circle cx="376.7" cy="345.5" r="1.7" fill="#3cb2da"/>
<polyline points="276.4,372.4 288.9,369.2 301.4,365.4 318.2,358.5 330.7,349.2 347.4,327.2 360.0,318 376.7,302.7" fill="none" stroke="#9a8cd0" stroke-width="1.1"/>
<line x1="276.36" y1="371.59999999999997" x2="276.36" y2="373.2" stroke="#9a8cd0" stroke-width="0.8" />
<line x1="274.76" y1="371.59999999999997" x2="277.96000000000004" y2="371.59999999999997" stroke="#9a8cd0" stroke-width="0.8" />
<line x1="274.76" y1="373.2" x2="277.96000000000004" y2="373.2" stroke="#9a8cd0" stroke-width="0.8" />
<circle cx="276.4" cy="372.4" r="1.7" fill="#9a8cd0"/>
<line x1="288.9" y1="367.7" x2="288.9" y2="370.7" stroke="#9a8cd0" stroke-width="0.8" />
<line x1="287.29999999999995" y1="367.7" x2="290.5" y2="367.7" stroke="#9a8cd0" stroke-width="0.8" />
<line x1="287.29999999999995" y1="370.7" x2="290.5" y2="370.7" stroke="#9a8cd0" stroke-width="0.8" />
<circle cx="288.9" cy="369.2" r="1.7" fill="#9a8cd0"/>
<line x1="301.44" y1="362.4" x2="301.44" y2="368.4" stroke="#9a8cd0" stroke-width="0.8" />
<line x1="299.84" y1="362.4" x2="303.04" y2="362.4" stroke="#9a8cd0" stroke-width="0.8" />
<line x1="299.84" y1="368.4" x2="303.04" y2="368.4" stroke="#9a8cd0" stroke-width="0.8" />
<circle cx="301.4" cy="365.4" r="1.7" fill="#9a8cd0"/>
<line x1="318.15999999999997" y1="355.5" x2="318.15999999999997" y2="361.5" stroke="#9a8cd0" stroke-width="0.8" />
<line x1="316.55999999999995" y1="355.5" x2="319.76" y2="355.5" stroke="#9a8cd0" stroke-width="0.8" />
<line x1="316.55999999999995" y1="361.5" x2="319.76" y2="361.5" stroke="#9a8cd0" stroke-width="0.8" />
<circle cx="318.2" cy="358.5" r="1.7" fill="#9a8cd0"/>
<line x1="330.7" y1="343.2" x2="330.7" y2="355.2" stroke="#9a8cd0" stroke-width="0.8" />
<line x1="329.09999999999997" y1="343.2" x2="332.3" y2="343.2" stroke="#9a8cd0" stroke-width="0.8" />
<line x1="329.09999999999997" y1="355.2" x2="332.3" y2="355.2" stroke="#9a8cd0" stroke-width="0.8" />
<circle cx="330.7" cy="349.2" r="1.7" fill="#9a8cd0"/>
<line x1="347.41999999999996" y1="318.2" x2="347.41999999999996" y2="336.2" stroke="#9a8cd0" stroke-width="0.8" />
<line x1="345.81999999999994" y1="318.2" x2="349.02" y2="318.2" stroke="#9a8cd0" stroke-width="0.8" />
<line x1="345.81999999999994" y1="336.2" x2="349.02" y2="336.2" stroke="#9a8cd0" stroke-width="0.8" />
<circle cx="347.4" cy="327.2" r="1.7" fill="#9a8cd0"/>
<line x1="359.96" y1="307" x2="359.96" y2="329" stroke="#9a8cd0" stroke-width="0.8" />
<line x1="358.35999999999996" y1="307" x2="361.56" y2="307" stroke="#9a8cd0" stroke-width="0.8" />
<line x1="358.35999999999996" y1="329" x2="361.56" y2="329" stroke="#9a8cd0" stroke-width="0.8" />
<circle cx="360.0" cy="318" r="1.7" fill="#9a8cd0"/>
<line x1="376.68" y1="295.0" x2="376.68" y2="310.4" stroke="#9a8cd0" stroke-width="0.8" />
<line x1="375.08" y1="295.0" x2="378.28000000000003" y2="295.0" stroke="#9a8cd0" stroke-width="0.8" />
<line x1="375.08" y1="310.4" x2="378.28000000000003" y2="310.4" stroke="#9a8cd0" stroke-width="0.8" />
<circle cx="376.7" cy="302.7" r="1.7" fill="#9a8cd0"/>
<polyline points="276.4,372.4 288.9,369.2 301.4,365.4 318.2,358.5 330.7,349.2 347.4,337.3 360.0,323.5 376.7,309.3" fill="none" stroke="#4e3462" stroke-width="1.1"/>
<line x1="276.36" y1="371.59999999999997" x2="276.36" y2="373.2" stroke="#4e3462" stroke-width="0.8" />
<line x1="274.76" y1="371.59999999999997" x2="277.96000000000004" y2="371.59999999999997" stroke="#4e3462" stroke-width="0.8" />
<line x1="274.76" y1="373.2" x2="277.96000000000004" y2="373.2" stroke="#4e3462" stroke-width="0.8" />
<circle cx="276.4" cy="372.4" r="1.7" fill="#4e3462"/>
<line x1="288.9" y1="367.7" x2="288.9" y2="370.7" stroke="#4e3462" stroke-width="0.8" />
<line x1="287.29999999999995" y1="367.7" x2="290.5" y2="367.7" stroke="#4e3462" stroke-width="0.8" />
<line x1="287.29999999999995" y1="370.7" x2="290.5" y2="370.7" stroke="#4e3462" stroke-width="0.8" />
<circle cx="288.9" cy="369.2" r="1.7" fill="#4e3462"/>
<line x1="301.44" y1="362.9" x2="301.44" y2="367.9" stroke="#4e3462" stroke-width="0.8" />
<line x1="299.84" y1="362.9" x2="303.04" y2="362.9" stroke="#4e3462" stroke-width="0.8" />
<line x1="299.84" y1="367.9" x2="303.04" y2="367.9" stroke="#4e3462" stroke-width="0.8" />
<circle cx="301.4" cy="365.4" r="1.7" fill="#4e3462"/>
<line x1="318.15999999999997" y1="355.5" x2="318.15999999999997" y2="361.5" stroke="#4e3462" stroke-width="0.8" />
<line x1="316.55999999999995" y1="355.5" x2="319.76" y2="355.5" stroke="#4e3462" stroke-width="0.8" />
<line x1="316.55999999999995" y1="361.5" x2="319.76" y2="361.5" stroke="#4e3462" stroke-width="0.8" />
<circle cx="318.2" cy="358.5" r="1.7" fill="#4e3462"/>
<line x1="330.7" y1="344.2" x2="330.7" y2="354.2" stroke="#4e3462" stroke-width="0.8" />
<line x1="329.09999999999997" y1="344.2" x2="332.3" y2="344.2" stroke="#4e3462" stroke-width="0.8" />
<line x1="329.09999999999997" y1="354.2" x2="332.3" y2="354.2" stroke="#4e3462" stroke-width="0.8" />
<circle cx="330.7" cy="349.2" r="1.7" fill="#4e3462"/>
<line x1="347.41999999999996" y1="328.3" x2="347.41999999999996" y2="346.3" stroke="#4e3462" stroke-width="0.8" />
<line x1="345.81999999999994" y1="328.3" x2="349.02" y2="328.3" stroke="#4e3462" stroke-width="0.8" />
<line x1="345.81999999999994" y1="346.3" x2="349.02" y2="346.3" stroke="#4e3462" stroke-width="0.8" />
<circle cx="347.4" cy="337.3" r="1.7" fill="#4e3462"/>
<line x1="359.96" y1="315.5" x2="359.96" y2="331.5" stroke="#4e3462" stroke-width="0.8" />
<line x1="358.35999999999996" y1="315.5" x2="361.56" y2="315.5" stroke="#4e3462" stroke-width="0.8" />
<line x1="358.35999999999996" y1="331.5" x2="361.56" y2="331.5" stroke="#4e3462" stroke-width="0.8" />
<circle cx="360.0" cy="323.5" r="1.7" fill="#4e3462"/>
<line x1="376.68" y1="303.8" x2="376.68" y2="314.8" stroke="#4e3462" stroke-width="0.8" />
<line x1="375.08" y1="303.8" x2="378.28000000000003" y2="303.8" stroke="#4e3462" stroke-width="0.8" />
<line x1="375.08" y1="314.8" x2="378.28000000000003" y2="314.8" stroke="#4e3462" stroke-width="0.8" />
<circle cx="376.7" cy="309.3" r="1.7" fill="#4e3462"/>
<path d="M381.8,344.2 H385.6 V361.8 H381.8" stroke="#333" stroke-width="0.9" fill="none" />
<circle cx="390.35" cy="353.70" r="0.9" fill="#1a1a1a"/>
<circle cx="393.20" cy="353.70" r="0.9" fill="#1a1a1a"/>
<circle cx="396.05" cy="353.70" r="0.9" fill="#1a1a1a"/>
<line x1="405.4" y1="272.1" x2="415.4" y2="272.1" stroke="#9a8cd0" stroke-width="1.0" />
<circle cx="410.6" cy="272.1" r="1.2" fill="#9a8cd0"/>
<text x="418.8" y="274.1" font-size="6.9" text-anchor="start" fill="#3a3a3a" stroke="#3a3a3a" stroke-width="0.22" font-weight="normal" >scramble vehicle</text>
<line x1="405.4" y1="282.7" x2="415.4" y2="282.7" stroke="#3cb2da" stroke-width="1.0" />
<circle cx="410.6" cy="282.7" r="1.2" fill="#3cb2da"/>
<text x="418.8" y="284.7" font-size="6.9" text-anchor="start" fill="#3a3a3a" stroke="#3a3a3a" stroke-width="0.22" font-weight="normal" >scramble FK866</text>
<line x1="405.4" y1="293.3" x2="415.4" y2="293.3" stroke="#4e3462" stroke-width="1.0" />
<circle cx="410.6" cy="293.3" r="1.2" fill="#4e3462"/>
<text x="418.8" y="295.3" font-size="6.9" text-anchor="start" fill="#3a3a3a" stroke="#3a3a3a" stroke-width="0.22" font-weight="normal" >shNAPRT#2 vehicle</text>
<line x1="405.4" y1="303.8" x2="415.4" y2="303.8" stroke="#d6237f" stroke-width="1.0" />
<circle cx="410.6" cy="303.8" r="1.2" fill="#d6237f"/>
<text x="418.8" y="305.8" font-size="6.9" text-anchor="start" fill="#3a3a3a" stroke="#3a3a3a" stroke-width="0.22" font-weight="normal" >shNAPRT#2 FK866</text>
<text x="217.6" y="431.6" font-size="10" text-anchor="start" fill="#111" stroke="#111" stroke-width="0.22" font-weight="bold" >F</text>
<rect x="324.6" y="434.6" width="44.9" height="82.9" fill="url(#dots2)" stroke="none" stroke-width="0" />
<line x1="324.6" y1="434.6" x2="369.5" y2="434.6" stroke="#888" stroke-width="0.6" stroke-dasharray="1,1"/>
<line x1="324.6" y1="434.6" x2="324.6" y2="517.5" stroke="#555" stroke-width="0.9" stroke-dasharray="2,1.8"/>
<line x1="369.5" y1="434.6" x2="369.5" y2="517.5" stroke="#444" stroke-width="0.9" stroke-dasharray="2,1.8"/>
<text x="347.1" y="429.9" font-size="7" text-anchor="middle" fill="#222" stroke="#222" stroke-width="0.22" font-weight="normal" >treatment</text>
<line x1="263.5" y1="423.8" x2="263.5" y2="517.5" stroke="#2a2a2a" stroke-width="1.0" />
<line x1="260.2" y1="517.5" x2="263.5" y2="517.5" stroke="#2a2a2a" stroke-width="1.0" />
<text x="257.8" y="520.3" font-size="7.6" text-anchor="end" fill="#3a3a3a" stroke="#3a3a3a" stroke-width="0.22" font-weight="normal" >0</text>
<line x1="260.2" y1="502.21" x2="263.5" y2="502.21" stroke="#2a2a2a" stroke-width="1.0" />
<text x="257.8" y="505.01" font-size="7.6" text-anchor="end" fill="#3a3a3a" stroke="#3a3a3a" stroke-width="0.22" font-weight="normal" >20</text>
<line x1="260.2" y1="486.92" x2="263.5" y2="486.92" stroke="#2a2a2a" stroke-width="1.0" />
<text x="257.8" y="489.72" font-size="7.6" text-anchor="end" fill="#3a3a3a" stroke="#3a3a3a" stroke-width="0.22" font-weight="normal" >40</text>
<line x1="260.2" y1="471.63" x2="263.5" y2="471.63" stroke="#2a2a2a" stroke-width="1.0" />
<text x="257.8" y="474.43" font-size="7.6" text-anchor="end" fill="#3a3a3a" stroke="#3a3a3a" stroke-width="0.22" font-weight="normal" >60</text>
<line x1="260.2" y1="456.34000000000003" x2="263.5" y2="456.34000000000003" stroke="#2a2a2a" stroke-width="1.0" />
<text x="257.8" y="459.14000000000004" font-size="7.6" text-anchor="end" fill="#3a3a3a" stroke="#3a3a3a" stroke-width="0.22" font-weight="normal" >80</text>
<line x1="260.2" y1="441.05" x2="263.5" y2="441.05" stroke="#2a2a2a" stroke-width="1.0" />
<text x="257.8" y="443.85" font-size="7.6" text-anchor="end" fill="#3a3a3a" stroke="#3a3a3a" stroke-width="0.22" font-weight="normal" >100</text>
<line x1="260.2" y1="425.76" x2="263.5" y2="425.76" stroke="#2a2a2a" stroke-width="1.0" />
<text x="257.8" y="428.56" font-size="7.6" text-anchor="end" fill="#3a3a3a" stroke="#3a3a3a" stroke-width="0.22" font-weight="normal" >120</text>
<line x1="263.5" y1="517.5" x2="466" y2="517.5" stroke="#2a2a2a" stroke-width="1.0" />
<line x1="263.3" y1="517.5" x2="263.3" y2="520.3" stroke="#2a2a2a" stroke-width="0.8" />
<text x="263.3" y="529.9" font-size="7" text-anchor="middle" fill="#3a3a3a" stroke="#3a3a3a" stroke-width="0.22" font-weight="normal" >0</text>
<line x1="288.15000000000003" y1="517.5" x2="288.15000000000003" y2="520.3" stroke="#2a2a2a" stroke-width="0.8" />
<text x="288.15000000000003" y="529.9" font-size="7" text-anchor="middle" fill="#3a3a3a" stroke="#3a3a3a" stroke-width="0.22" font-weight="normal" >10</text>
<line x1="313.0" y1="517.5" x2="313.0" y2="520.3" stroke="#2a2a2a" stroke-width="0.8" />
<text x="313.0" y="529.9" font-size="7" text-anchor="middle" fill="#3a3a3a" stroke="#3a3a3a" stroke-width="0.22" font-weight="normal" >20</text>
<line x1="337.85" y1="517.5" x2="337.85" y2="520.3" stroke="#2a2a2a" stroke-width="0.8" />
<text x="337.85" y="529.9" font-size="7" text-anchor="middle" fill="#3a3a3a" stroke="#3a3a3a" stroke-width="0.22" font-weight="normal" >30</text>
<line x1="362.7" y1="517.5" x2="362.7" y2="520.3" stroke="#2a2a2a" stroke-width="0.8" />
<text x="362.7" y="529.9" font-size="7" text-anchor="middle" fill="#3a3a3a" stroke="#3a3a3a" stroke-width="0.22" font-weight="normal" >40</text>
<line x1="387.55" y1="517.5" x2="387.55" y2="520.3" stroke="#2a2a2a" stroke-width="0.8" />
<text x="387.55" y="529.9" font-size="7" text-anchor="middle" fill="#3a3a3a" stroke="#3a3a3a" stroke-width="0.22" font-weight="normal" >50</text>
<line x1="412.4" y1="517.5" x2="412.4" y2="520.3" stroke="#2a2a2a" stroke-width="0.8" />
<text x="412.4" y="529.9" font-size="7" text-anchor="middle" fill="#3a3a3a" stroke="#3a3a3a" stroke-width="0.22" font-weight="normal" >60</text>
<line x1="437.25" y1="517.5" x2="437.25" y2="520.3" stroke="#2a2a2a" stroke-width="0.8" />
<text x="437.25" y="529.9" font-size="7" text-anchor="middle" fill="#3a3a3a" stroke="#3a3a3a" stroke-width="0.22" font-weight="normal" >70</text>
<line x1="462.1" y1="517.5" x2="462.1" y2="520.3" stroke="#2a2a2a" stroke-width="0.8" />
<text x="462.1" y="529.9" font-size="7" text-anchor="middle" fill="#3a3a3a" stroke="#3a3a3a" stroke-width="0.22" font-weight="normal" >80</text>
<text x="364.7" y="541.6" font-size="8.4" text-anchor="middle" fill="#222" stroke="#222" stroke-width="0.25" textLength="68.2" lengthAdjust="spacingAndGlyphs">Days after cells injection</text>
<text transform="translate(239.28,471.00) rotate(-90)" x="0" y="0" font-size="8" text-anchor="middle" fill="#2a2a2a" stroke="#2a2a2a" stroke-width="0.25" textLength="30" lengthAdjust="spacingAndGlyphs" >% Survival</text>
<path d="M263.5,441.6 H418.1 V466.6 H425.3 V479.7 H428 V492 H430.5 V505 H440.5 V517.5" stroke="#e23c8e" stroke-width="1.1" fill="none" />
<path d="M263.5,441.6 H403.3 V454.1 H405.9 V466.2 H408.1 V479.7 H415.9 V492 H420.5 V505 H423.6 V517.5" stroke="#9fd2de" stroke-width="1.1" fill="none" />
<path d="M263.5,441.6 H373.3 V454.1 H376.2 V479.7 H383.6 V505 H386 V517.5" stroke="#a89ad6" stroke-width="1.1" fill="none" />
<path d="M263.5,441.6 H385.7 V471.4 H390.9 V502 H396 V517.5" stroke="#4c3454" stroke-width="1.1" fill="none" />
<text x="269.2" y="504.2" font-size="7.2" text-anchor="start" fill="#222" stroke="#222" stroke-width="0.22" font-weight="normal" >*<tspan font-style="italic">P</tspan> value</text>
<text x="269.2" y="513.6" font-size="7.2" text-anchor="start" fill="#222" stroke="#222" stroke-width="0.22" font-weight="normal" >vs. vehicle</text>
<text x="448.7" y="506.3" font-size="7.2" text-anchor="start" fill="#222" stroke="#222" stroke-width="0.22" font-weight="normal" letter-spacing="0.25">*<tspan font-style="italic">P</tspan> .011</text>
<line x1="434.3" y1="414.5" x2="445.2" y2="414.5" stroke="#a89ad6" stroke-width="1.0" />
<line x1="439.7" y1="413.5" x2="439.7" y2="415.5" stroke="#a89ad6" stroke-width="0.6" />
<text x="447.8" y="417.0" font-size="6.9" text-anchor="start" fill="#3a3a3a" stroke="#3a3a3a" stroke-width="0.22" font-weight="normal" >scramble vehicle</text>
<line x1="434.3" y1="425.8" x2="445.2" y2="425.8" stroke="#9fd2de" stroke-width="1.0" />
<line x1="439.7" y1="424.8" x2="439.7" y2="426.8" stroke="#9fd2de" stroke-width="0.6" />
<text x="447.8" y="428.3" font-size="6.9" text-anchor="start" fill="#3a3a3a" stroke="#3a3a3a" stroke-width="0.22" font-weight="normal" >scramble FK866</text>
<line x1="434.3" y1="436.7" x2="445.2" y2="436.7" stroke="#4c3454" stroke-width="1.0" />
<line x1="439.7" y1="435.7" x2="439.7" y2="437.7" stroke="#4c3454" stroke-width="0.6" />
<text x="447.8" y="439.2" font-size="6.9" text-anchor="start" fill="#3a3a3a" stroke="#3a3a3a" stroke-width="0.22" font-weight="normal" >shNAPRT#2 vehicle</text>
<line x1="434.3" y1="447.4" x2="445.2" y2="447.4" stroke="#e23c8e" stroke-width="1.0" />
<line x1="439.7" y1="446.4" x2="439.7" y2="448.4" stroke="#e23c8e" stroke-width="0.6" />
<text x="447.8" y="449.9" font-size="6.9" text-anchor="start" fill="#3a3a3a" stroke="#3a3a3a" stroke-width="0.22" font-weight="normal" >shNAPRT#2 FK866</text>
</svg></body></html>
